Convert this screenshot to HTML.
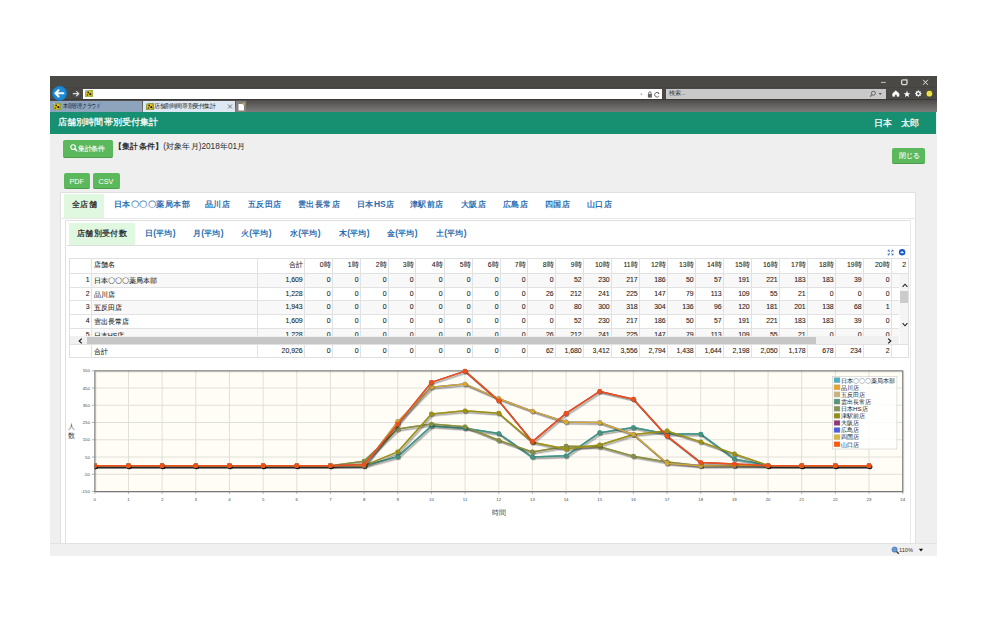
<!DOCTYPE html>
<html><head><meta charset="utf-8">
<style>
*{box-sizing:border-box;margin:0;padding:0}
html,body{width:988px;height:632px;overflow:hidden;background:#fff;font-family:"Liberation Sans",sans-serif;}
.a{position:absolute}
#win{left:50px;top:76px;width:887px;height:480px;background:#efefef;overflow:hidden}
#title{left:0;top:0;width:887px;height:24px;background:#4a4946}
#tabrow{left:0;top:24px;width:887px;height:12px;background:linear-gradient(#4d4c4a,#7e7c7a)}
#addr{left:33px;top:12.5px;width:579px;height:10.5px;background:#fff}
#search{left:616px;top:12.6px;width:220px;height:10px;background:#c9c9c9}
#hdr{left:0;top:36px;width:886px;height:22px;background:#179072;color:#fff;font-size:9.3px}
#status{left:0;top:467px;width:887px;height:13px;background:#f0f0f0;border-top:1px solid #e2e2e2}
.btn{background:#5cb85c;color:#fff;border-radius:2px;font-size:6px;text-align:center}
.tab0{left:0;top:24.5px;width:92px;height:11.5px;background:#8ea4bd;font-size:5.7px;color:#0e1a30;line-height:11.5px}
.tab1{left:93px;top:24.5px;width:92px;height:11.5px;background:#dde8f3;font-size:5.6px;color:#101820;line-height:11.5px}
</style></head><body>
<div id="win" class="a">
  <div id="title" class="a"></div>
  <div class="a" style="left:0;top:11px;width:887px;height:1px;background:#444341"></div>
  <div id="tabrow" class="a"></div>
  <div class="a" style="left:0;top:22.8px;width:887px;height:1.4px;background:#3a3938"></div>
  <!-- window controls -->
  <svg class="a" style="left:826px;top:2px" width="60" height="10" viewBox="0 0 60 10">
    <line x1="4.9" y1="4.4" x2="9.8" y2="4.4" stroke="#d0d0d0" stroke-width="0.9"/>
    <rect x="25.6" y="1.9" width="5.4" height="4.8" rx="1.4" fill="none" stroke="#dcdcdc" stroke-width="1.3"/>
    <path d="M29.2 1.3H31.4V3.6" fill="none" stroke="#bbb" stroke-width="0.7"/>
    <path d="M47.1 1.8L51.9 6.8M51.9 1.8L47.1 6.8" stroke="#e6e6e6" stroke-width="1"/>
  </svg>
  <!-- back / forward -->
  <svg class="a" style="left:0;top:9px" width="34" height="16" viewBox="0 0 34 16">
    <circle cx="9.6" cy="8.3" r="7.2" fill="#1b89d5" stroke="#1170b4" stroke-width="0.6"/>
    <path d="M5.4 8.3H13.4M5.4 8.3L8.6 5.1M5.4 8.3L8.6 11.5" stroke="#fff" stroke-width="2" fill="none" stroke-linecap="round" stroke-linejoin="round"/>
    <circle cx="26.1" cy="8.7" r="5" fill="#4d4c4a" stroke="#3a3938" stroke-width="0.6"/>
    <path d="M23.3 8.7H28.8M28.8 8.7L26.6 6.6M28.8 8.7L26.6 10.8" stroke="#d8d8d8" stroke-width="1.2" fill="none" stroke-linecap="round"/>
  </svg>
  <div id="addr" class="a">
    <svg class="a" style="left:2px;top:1.5px" width="8" height="7" viewBox="0 0 8 7">
      <rect x="0" y="0" width="8" height="7" fill="#9ab650"/>
      <circle cx="4" cy="3.6" r="2.8" fill="#f0c020"/>
      <circle cx="3.2" cy="2.4" r="0.9" fill="#221"/><circle cx="5.3" cy="4.2" r="1.1" fill="#221"/><circle cx="2.6" cy="4.9" r="0.7" fill="#221"/>
      <rect x="0" y="0" width="2" height="1.3" fill="#9cd0f0"/>
    </svg>
    <svg class="a" style="left:555px;top:1px" width="24" height="9" viewBox="0 0 24 9">
      <path d="M2.4 3.8L4.4 3.8L3.4 5z" fill="#666"/>
      <g transform="translate(1.3,0)"><rect x="8.6" y="4" width="4" height="3.6" fill="#666"/><path d="M9.4 4.2V2.9A1.2 1.2 0 0 1 11.8 2.9V4.2" stroke="#666" fill="none" stroke-width="0.9"/>
      <path d="M19.5 3.3A2.3 2.3 0 1 0 19.6 6" stroke="#666" fill="none" stroke-width="1"/><path d="M18.6 2.1L20.2 3.4L18.6 4.2" fill="#666"/></g>
    </svg>
  </div>
  <div id="search" class="a">
    <span class="a" style="left:3px;top:1.8px;font-size:5.5px;color:#333">検索...</span>
    <svg class="a" style="left:201px;top:1px" width="22" height="8" viewBox="0 0 22 8">
      <circle cx="6.4" cy="3.2" r="2" stroke="#666" fill="none" stroke-width="1"/><path d="M5 4.7L3.2 6.6" stroke="#666" stroke-width="1.2"/>
      <path d="M11.6 3.1L14.8 3.1L13.2 5z" fill="#555"/>
    </svg>
  </div>
  <!-- toolbar icons -->
  <svg class="a" style="left:840px;top:12px" width="47" height="12" viewBox="0 0 47 12">
    <path d="M2.7 8.3V5.6L5.85 2.8L9 5.6V8.3H7V6.4H4.7V8.3z" fill="#fff" stroke="#fff" stroke-width="0.6" stroke-linejoin="round"/>
    <path d="M17 2.6L17.9 5.2L20.4 5.2L18.4 6.8L19.1 9.1L17 7.7L14.9 9.1L15.6 6.8L13.6 5.2L16.1 5.2z" fill="#fff"/>
    <polygon points="31.80,5.60 30.52,6.52 30.77,8.07 29.22,7.82 28.30,9.10 27.38,7.82 25.83,8.07 26.08,6.52 24.80,5.60 26.08,4.68 25.83,3.13 27.38,3.38 28.30,2.10 29.22,3.38 30.77,3.13 30.52,4.68" fill="#fff"/>
    <circle cx="28.3" cy="5.6" r="1.2" fill="#3a3938"/>
    <circle cx="39.4" cy="5.65" r="3.4" fill="#f3e64b" stroke="#2a2a18" stroke-width="0.7"/>
    <circle cx="38.4" cy="5" r="0.4" fill="#a09020"/><circle cx="40.6" cy="5" r="0.4" fill="#a09020"/>
  </svg>
  <!-- tabs -->
  <div class="a tab0">
    <svg class="a" style="left:2.5px;top:2px" width="8" height="7" viewBox="0 0 8 7">
      <rect x="0" y="0" width="8" height="7" fill="#8aa048"/>
      <circle cx="4" cy="3.6" r="2.9" fill="#f0c020"/>
      <circle cx="3.2" cy="2.4" r="0.9" fill="#221"/><circle cx="5.3" cy="4.2" r="1.1" fill="#221"/><circle cx="2.6" cy="4.9" r="0.7" fill="#221"/>
      <rect x="0" y="0" width="2" height="1.3" fill="#9cd0f0"/>
    </svg>
    <span class="a" style="left:12.7px;top:2.6px;font-size:20px;line-height:20px;white-space:nowrap;transform:scale(0.235,0.28);transform-origin:0 0">本部管理クラウド</span>
  </div>
  <div class="a tab1">
    <svg class="a" style="left:3px;top:2px" width="8" height="7" viewBox="0 0 8 7">
      <rect x="0" y="0" width="8" height="7" fill="#8aa048"/>
      <circle cx="4" cy="3.6" r="2.9" fill="#f0c020"/>
      <circle cx="3.2" cy="2.4" r="0.9" fill="#221"/><circle cx="5.3" cy="4.2" r="1.1" fill="#221"/><circle cx="2.6" cy="4.9" r="0.7" fill="#221"/>
      <rect x="0" y="0" width="2" height="1.3" fill="#9cd0f0"/>
    </svg>
    <span class="a" style="left:10.6px;top:2.6px;font-size:20px;line-height:20px;white-space:nowrap;transform:scale(0.28);transform-origin:0 0">店舗別時間帯別受付集計</span>
    <svg class="a" style="left:84px;top:3.5px" width="6" height="5" viewBox="0 0 6 5"><path d="M1 0.5L5 4.5M5 0.5L1 4.5" stroke="#555" stroke-width="0.8"/></svg>
  </div>
  <div class="a" style="left:186px;top:24.5px;width:9.5px;height:11.5px;background:#85837f">
    <svg class="a" style="left:1.5px;top:2px" width="7" height="8" viewBox="0 0 7 8"><path d="M0.5 1H4.5L6 2.5V7.5H0.5z" fill="#fff"/><path d="M4.2 0.3L6.6 0.3L6.6 2.6" fill="#f2b830"/></svg>
  </div>
  <div id="hdr" class="a">
    <span class="a" style="left:8.2px;top:3.6px;font-size:20px;line-height:normal;white-space:nowrap;transform:scale(0.455);transform-origin:0 0;-webkit-text-stroke:0.5px #fff">店舗別時間帯別受付集計</span>
    <span class="a" style="left:823.6px;top:5.3px;font-size:20px;line-height:normal;white-space:nowrap;transform:scale(0.445);transform-origin:0 0;-webkit-text-stroke:0.5px #fff">日本</span><span class="a" style="left:850.8px;top:5.3px;font-size:20px;line-height:normal;white-space:nowrap;transform:scale(0.445);transform-origin:0 0;-webkit-text-stroke:0.5px #fff">太郎</span>
  </div>
<div id="page" class="a" style="left:0;top:58px;width:886px;height:409px;overflow:hidden;background:#efefef">
<div class="a" style="left:13.00px;top:6.00px;width:50.40px;height:17.60px;background:#5cb85c;border-radius:2px;border-bottom:1px solid #4a9e4a;"><svg class="a" style="left:6.6px;top:3.6px" width="8" height="8" viewBox="0 0 8 8"><circle cx="3.1" cy="3.1" r="2.35" fill="none" stroke="#fff" stroke-width="1.15"/><path d="M4.8 4.8L6.8 6.8" stroke="#fff" stroke-width="1.4" stroke-linecap="round"/></svg><span class="a" style="left:14.6px;top:3.9px;font-size:20px;transform:scale(0.3300);transform-origin:0 0;white-space:nowrap;color:#fff;-webkit-text-stroke:0.3px #fff">集計条件</span></div>
<span class="a" style="left:64.40px;top:6.80px;font-size:20px;transform:scale(0.4100);transform-origin:0 0;white-space:nowrap;color:#2a2a2a"><b>【集計条件】</b>(対象年月)2018年01月</span>
<div class="a" style="left:842.10px;top:13.50px;width:33.40px;height:16.10px;background:#5cb85c;border-radius:2px;border-bottom:1px solid #4a9e4a;"><span class="a" style="left:6.6px;top:3.6px;font-size:20px;transform:scale(0.3350);transform-origin:0 0;white-space:nowrap;color:#fff;letter-spacing:0.6px;-webkit-text-stroke:0.3px #fff">閉じる</span></div>
<div class="a" style="left:14.10px;top:39.40px;width:25.70px;height:15.70px;background:#5cb85c;border-radius:2px;border-bottom:1px solid #4a9e4a;"><span class="a" style="left:5.3px;top:3.7px;font-size:7.3px;color:#fff">PDF</span></div>
<div class="a" style="left:42.80px;top:39.40px;width:27.00px;height:15.70px;background:#5cb85c;border-radius:2px;border-bottom:1px solid #4a9e4a;"><span class="a" style="left:5.6px;top:3.7px;font-size:7.3px;color:#fff">CSV</span></div>
<div class="a" style="left:10.40px;top:58.10px;width:855.60px;height:367.90px;background:#fff;border:1px solid #e0e0e0;"></div>
<div class="a" style="left:13.60px;top:59.90px;width:40.60px;height:24.10px;background:#dff8df;"></div>
<div class="a" style="left:11.20px;top:83.60px;width:854.00px;height:1.00px;background:#e8e8e8;"></div>
<span class="a" style="left:21.60px;top:65.20px;font-size:20px;transform:scale(0.4150);transform-origin:0 0;white-space:nowrap;color:#333"><b>全店舗</b></span>
<span class="a" style="left:64.10px;top:65.20px;font-size:20px;transform:scale(0.4225);transform-origin:0 0;white-space:nowrap;color:#2a6db0"><b>日本〇〇〇薬局本部</b></span>
<span class="a" style="left:155.40px;top:65.20px;font-size:20px;transform:scale(0.4225);transform-origin:0 0;white-space:nowrap;color:#2a6db0"><b>品川店</b></span>
<span class="a" style="left:198.30px;top:65.20px;font-size:20px;transform:scale(0.4225);transform-origin:0 0;white-space:nowrap;color:#2a6db0"><b>五反田店</b></span>
<span class="a" style="left:248.30px;top:65.20px;font-size:20px;transform:scale(0.4225);transform-origin:0 0;white-space:nowrap;color:#2a6db0"><b>雲出長常店</b></span>
<span class="a" style="left:306.90px;top:65.20px;font-size:20px;transform:scale(0.4225);transform-origin:0 0;white-space:nowrap;color:#2a6db0"><b>日本HS店</b></span>
<span class="a" style="left:360.40px;top:65.20px;font-size:20px;transform:scale(0.4225);transform-origin:0 0;white-space:nowrap;color:#2a6db0"><b>津駅前店</b></span>
<span class="a" style="left:410.50px;top:65.20px;font-size:20px;transform:scale(0.4225);transform-origin:0 0;white-space:nowrap;color:#2a6db0"><b>大阪店</b></span>
<span class="a" style="left:452.60px;top:65.20px;font-size:20px;transform:scale(0.4225);transform-origin:0 0;white-space:nowrap;color:#2a6db0"><b>広島店</b></span>
<span class="a" style="left:494.90px;top:65.20px;font-size:20px;transform:scale(0.4225);transform-origin:0 0;white-space:nowrap;color:#2a6db0"><b>四国店</b></span>
<span class="a" style="left:537.10px;top:65.20px;font-size:20px;transform:scale(0.4225);transform-origin:0 0;white-space:nowrap;color:#2a6db0"><b>山口店</b></span>
<div class="a" style="left:15.40px;top:86.00px;width:845.40px;height:340.00px;background:#fff;border:1px solid #e0e0e0;border-right-color:#ebebeb;"></div>
<div class="a" style="left:19.30px;top:89.20px;width:65.30px;height:22.30px;background:#dff8df;"></div>
<div class="a" style="left:16.50px;top:111.20px;width:842.80px;height:1.00px;background:#dddddd;"></div>
<span class="a" style="left:27.00px;top:93.80px;font-size:20px;transform:scale(0.4175);transform-origin:0 0;white-space:nowrap;color:#333"><b>店舗別受付数</b></span>
<span class="a" style="left:94.60px;top:93.80px;font-size:20px;transform:scale(0.4175);transform-origin:0 0;white-space:nowrap;color:#2a6db0"><b>日(平均)</b></span>
<span class="a" style="left:142.70px;top:93.80px;font-size:20px;transform:scale(0.4175);transform-origin:0 0;white-space:nowrap;color:#2a6db0"><b>月(平均)</b></span>
<span class="a" style="left:191.30px;top:93.80px;font-size:20px;transform:scale(0.4175);transform-origin:0 0;white-space:nowrap;color:#2a6db0"><b>火(平均)</b></span>
<span class="a" style="left:239.80px;top:93.80px;font-size:20px;transform:scale(0.4175);transform-origin:0 0;white-space:nowrap;color:#2a6db0"><b>水(平均)</b></span>
<span class="a" style="left:288.70px;top:93.80px;font-size:20px;transform:scale(0.4175);transform-origin:0 0;white-space:nowrap;color:#2a6db0"><b>木(平均)</b></span>
<span class="a" style="left:337.20px;top:93.80px;font-size:20px;transform:scale(0.4175);transform-origin:0 0;white-space:nowrap;color:#2a6db0"><b>金(平均)</b></span>
<span class="a" style="left:386.10px;top:93.80px;font-size:20px;transform:scale(0.4175);transform-origin:0 0;white-space:nowrap;color:#2a6db0"><b>土(平均)</b></span>
<svg class="a" style="left:836px;top:114px" width="20" height="9" viewBox="0 0 20 9"><path d="M2.2 2.2L3.8 3.8M2.2 2.2H3.5M2.2 2.2V3.5 M7.0 2.2L5.4 3.8M7.0 2.2H5.7M7.0 2.2V3.5 M2.2 6.9L3.8 5.3M2.2 6.9H3.5M2.2 6.9V5.6 M7.0 6.9L5.4 5.3M7.0 6.9H5.7M7.0 6.9V5.6" stroke="#3a6fb8" stroke-width="1" fill="none"/><circle cx="16.1" cy="4.2" r="3.2" fill="#1a56c8"/><path d="M14.4 5.0L16.1 3.1L17.8 5.0z" fill="#bfefff" stroke="#bfefff" stroke-width="0.5" stroke-linejoin="round"/></svg>
<div class="a" style="left:19.10px;top:124.40px;width:840.30px;height:99.80px;border:1px solid #e0e0e0;background:#fff;"></div>
<div class="a" style="left:19.60px;top:139.00px;width:839.80px;height:1.00px;background:#e2e2e2;"></div>
<div class="a" style="left:41.50px;top:140.00px;width:808.00px;height:13.72px;background:#f8f8f8;"></div>
<div class="a" style="left:19.60px;top:152.72px;width:829.90px;height:1.00px;background:#e2e2e2;"></div>
<div class="a" style="left:41.50px;top:153.72px;width:808.00px;height:13.72px;background:#fff;"></div>
<div class="a" style="left:19.60px;top:166.44px;width:829.90px;height:1.00px;background:#e2e2e2;"></div>
<div class="a" style="left:41.50px;top:167.44px;width:808.00px;height:13.72px;background:#f8f8f8;"></div>
<div class="a" style="left:19.60px;top:180.16px;width:829.90px;height:1.00px;background:#e2e2e2;"></div>
<div class="a" style="left:41.50px;top:181.16px;width:808.00px;height:13.72px;background:#fff;"></div>
<div class="a" style="left:19.60px;top:193.88px;width:829.90px;height:1.00px;background:#e2e2e2;"></div>
<div class="a" style="left:41.50px;top:194.88px;width:808.00px;height:7.42px;background:#f8f8f8;"></div>
<div class="a" style="left:41.00px;top:124.90px;width:1.00px;height:77.40px;background:#e2e2e2;"></div>
<div class="a" style="left:41.00px;top:210.20px;width:1.00px;height:13.40px;background:#e2e2e2;"></div>
<div class="a" style="left:207.00px;top:124.90px;width:1.00px;height:77.40px;background:#e2e2e2;"></div>
<div class="a" style="left:207.00px;top:210.20px;width:1.00px;height:13.40px;background:#e2e2e2;"></div>
<div class="a" style="left:254.00px;top:124.90px;width:1.00px;height:77.40px;background:#e2e2e2;"></div>
<div class="a" style="left:254.00px;top:210.20px;width:1.00px;height:13.40px;background:#e2e2e2;"></div>
<div class="a" style="left:282.00px;top:124.90px;width:1.00px;height:77.40px;background:#e2e2e2;"></div>
<div class="a" style="left:282.00px;top:210.20px;width:1.00px;height:13.40px;background:#e2e2e2;"></div>
<div class="a" style="left:310.00px;top:124.90px;width:1.00px;height:77.40px;background:#e2e2e2;"></div>
<div class="a" style="left:310.00px;top:210.20px;width:1.00px;height:13.40px;background:#e2e2e2;"></div>
<div class="a" style="left:338.00px;top:124.90px;width:1.00px;height:77.40px;background:#e2e2e2;"></div>
<div class="a" style="left:338.00px;top:210.20px;width:1.00px;height:13.40px;background:#e2e2e2;"></div>
<div class="a" style="left:365.00px;top:124.90px;width:1.00px;height:77.40px;background:#e2e2e2;"></div>
<div class="a" style="left:365.00px;top:210.20px;width:1.00px;height:13.40px;background:#e2e2e2;"></div>
<div class="a" style="left:394.00px;top:124.90px;width:1.00px;height:77.40px;background:#e2e2e2;"></div>
<div class="a" style="left:394.00px;top:210.20px;width:1.00px;height:13.40px;background:#e2e2e2;"></div>
<div class="a" style="left:422.00px;top:124.90px;width:1.00px;height:77.40px;background:#e2e2e2;"></div>
<div class="a" style="left:422.00px;top:210.20px;width:1.00px;height:13.40px;background:#e2e2e2;"></div>
<div class="a" style="left:450.00px;top:124.90px;width:1.00px;height:77.40px;background:#e2e2e2;"></div>
<div class="a" style="left:450.00px;top:210.20px;width:1.00px;height:13.40px;background:#e2e2e2;"></div>
<div class="a" style="left:477.00px;top:124.90px;width:1.00px;height:77.40px;background:#e2e2e2;"></div>
<div class="a" style="left:477.00px;top:210.20px;width:1.00px;height:13.40px;background:#e2e2e2;"></div>
<div class="a" style="left:505.00px;top:124.90px;width:1.00px;height:77.40px;background:#e2e2e2;"></div>
<div class="a" style="left:505.00px;top:210.20px;width:1.00px;height:13.40px;background:#e2e2e2;"></div>
<div class="a" style="left:533.00px;top:124.90px;width:1.00px;height:77.40px;background:#e2e2e2;"></div>
<div class="a" style="left:533.00px;top:210.20px;width:1.00px;height:13.40px;background:#e2e2e2;"></div>
<div class="a" style="left:561.00px;top:124.90px;width:1.00px;height:77.40px;background:#e2e2e2;"></div>
<div class="a" style="left:561.00px;top:210.20px;width:1.00px;height:13.40px;background:#e2e2e2;"></div>
<div class="a" style="left:589.00px;top:124.90px;width:1.00px;height:77.40px;background:#e2e2e2;"></div>
<div class="a" style="left:589.00px;top:210.20px;width:1.00px;height:13.40px;background:#e2e2e2;"></div>
<div class="a" style="left:617.00px;top:124.90px;width:1.00px;height:77.40px;background:#e2e2e2;"></div>
<div class="a" style="left:617.00px;top:210.20px;width:1.00px;height:13.40px;background:#e2e2e2;"></div>
<div class="a" style="left:645.00px;top:124.90px;width:1.00px;height:77.40px;background:#e2e2e2;"></div>
<div class="a" style="left:645.00px;top:210.20px;width:1.00px;height:13.40px;background:#e2e2e2;"></div>
<div class="a" style="left:673.00px;top:124.90px;width:1.00px;height:77.40px;background:#e2e2e2;"></div>
<div class="a" style="left:673.00px;top:210.20px;width:1.00px;height:13.40px;background:#e2e2e2;"></div>
<div class="a" style="left:701.00px;top:124.90px;width:1.00px;height:77.40px;background:#e2e2e2;"></div>
<div class="a" style="left:701.00px;top:210.20px;width:1.00px;height:13.40px;background:#e2e2e2;"></div>
<div class="a" style="left:729.00px;top:124.90px;width:1.00px;height:77.40px;background:#e2e2e2;"></div>
<div class="a" style="left:729.00px;top:210.20px;width:1.00px;height:13.40px;background:#e2e2e2;"></div>
<div class="a" style="left:757.00px;top:124.90px;width:1.00px;height:77.40px;background:#e2e2e2;"></div>
<div class="a" style="left:757.00px;top:210.20px;width:1.00px;height:13.40px;background:#e2e2e2;"></div>
<div class="a" style="left:785.00px;top:124.90px;width:1.00px;height:77.40px;background:#e2e2e2;"></div>
<div class="a" style="left:785.00px;top:210.20px;width:1.00px;height:13.40px;background:#e2e2e2;"></div>
<div class="a" style="left:813.00px;top:124.90px;width:1.00px;height:77.40px;background:#e2e2e2;"></div>
<div class="a" style="left:813.00px;top:210.20px;width:1.00px;height:13.40px;background:#e2e2e2;"></div>
<div class="a" style="left:841.00px;top:124.90px;width:1.00px;height:77.40px;background:#e2e2e2;"></div>
<div class="a" style="left:841.00px;top:210.20px;width:1.00px;height:13.40px;background:#e2e2e2;"></div>
<span class="a" style="left:43.80px;top:126.00px;font-size:6.9px;color:#222;white-space:nowrap;-webkit-text-stroke:0.08px #222;">店舗名</span>
<span class="a" style="left:192.70px;top:126.00px;width:60px;text-align:right;font-size:6.9px;color:#222;white-space:nowrap;-webkit-text-stroke:0.08px #222;">合計</span>
<span class="a" style="left:220.70px;top:126.00px;width:60px;text-align:right;font-size:6.9px;color:#222;white-space:nowrap;-webkit-text-stroke:0.08px #222;">0時</span>
<span class="a" style="left:248.70px;top:126.00px;width:60px;text-align:right;font-size:6.9px;color:#222;white-space:nowrap;-webkit-text-stroke:0.08px #222;">1時</span>
<span class="a" style="left:276.70px;top:126.00px;width:60px;text-align:right;font-size:6.9px;color:#222;white-space:nowrap;-webkit-text-stroke:0.08px #222;">2時</span>
<span class="a" style="left:303.70px;top:126.00px;width:60px;text-align:right;font-size:6.9px;color:#222;white-space:nowrap;-webkit-text-stroke:0.08px #222;">3時</span>
<span class="a" style="left:332.70px;top:126.00px;width:60px;text-align:right;font-size:6.9px;color:#222;white-space:nowrap;-webkit-text-stroke:0.08px #222;">4時</span>
<span class="a" style="left:360.70px;top:126.00px;width:60px;text-align:right;font-size:6.9px;color:#222;white-space:nowrap;-webkit-text-stroke:0.08px #222;">5時</span>
<span class="a" style="left:388.70px;top:126.00px;width:60px;text-align:right;font-size:6.9px;color:#222;white-space:nowrap;-webkit-text-stroke:0.08px #222;">6時</span>
<span class="a" style="left:415.70px;top:126.00px;width:60px;text-align:right;font-size:6.9px;color:#222;white-space:nowrap;-webkit-text-stroke:0.08px #222;">7時</span>
<span class="a" style="left:443.70px;top:126.00px;width:60px;text-align:right;font-size:6.9px;color:#222;white-space:nowrap;-webkit-text-stroke:0.08px #222;">8時</span>
<span class="a" style="left:471.70px;top:126.00px;width:60px;text-align:right;font-size:6.9px;color:#222;white-space:nowrap;-webkit-text-stroke:0.08px #222;">9時</span>
<span class="a" style="left:499.70px;top:126.00px;width:60px;text-align:right;font-size:6.9px;color:#222;white-space:nowrap;-webkit-text-stroke:0.08px #222;">10時</span>
<span class="a" style="left:527.70px;top:126.00px;width:60px;text-align:right;font-size:6.9px;color:#222;white-space:nowrap;-webkit-text-stroke:0.08px #222;">11時</span>
<span class="a" style="left:555.70px;top:126.00px;width:60px;text-align:right;font-size:6.9px;color:#222;white-space:nowrap;-webkit-text-stroke:0.08px #222;">12時</span>
<span class="a" style="left:583.70px;top:126.00px;width:60px;text-align:right;font-size:6.9px;color:#222;white-space:nowrap;-webkit-text-stroke:0.08px #222;">13時</span>
<span class="a" style="left:611.70px;top:126.00px;width:60px;text-align:right;font-size:6.9px;color:#222;white-space:nowrap;-webkit-text-stroke:0.08px #222;">14時</span>
<span class="a" style="left:639.70px;top:126.00px;width:60px;text-align:right;font-size:6.9px;color:#222;white-space:nowrap;-webkit-text-stroke:0.08px #222;">15時</span>
<span class="a" style="left:667.70px;top:126.00px;width:60px;text-align:right;font-size:6.9px;color:#222;white-space:nowrap;-webkit-text-stroke:0.08px #222;">16時</span>
<span class="a" style="left:695.70px;top:126.00px;width:60px;text-align:right;font-size:6.9px;color:#222;white-space:nowrap;-webkit-text-stroke:0.08px #222;">17時</span>
<span class="a" style="left:723.70px;top:126.00px;width:60px;text-align:right;font-size:6.9px;color:#222;white-space:nowrap;-webkit-text-stroke:0.08px #222;">18時</span>
<span class="a" style="left:751.70px;top:126.00px;width:60px;text-align:right;font-size:6.9px;color:#222;white-space:nowrap;-webkit-text-stroke:0.08px #222;">19時</span>
<span class="a" style="left:779.70px;top:126.00px;width:60px;text-align:right;font-size:6.9px;color:#222;white-space:nowrap;-webkit-text-stroke:0.08px #222;">20時</span>
<span class="a" style="left:852.30px;top:126.80px;font-size:6.9px;color:#222;white-space:nowrap;-webkit-text-stroke:0.08px #222;">2</span>
<span class="a" style="left:-20.30px;top:142.00px;width:60px;text-align:right;font-size:6.9px;color:#222;white-space:nowrap;-webkit-text-stroke:0.08px #222;">1</span>
<span class="a" style="left:43.80px;top:141.80px;font-size:6.9px;color:#222;white-space:nowrap;-webkit-text-stroke:0.08px #222;">日本〇〇〇薬局本部</span>
<span class="a" style="left:192.70px;top:142.00px;width:60px;text-align:right;font-size:6.9px;color:#222;white-space:nowrap;-webkit-text-stroke:0.08px #222;">1,609</span>
<span class="a" style="left:220.70px;top:142.00px;width:60px;text-align:right;font-size:6.9px;color:#222;white-space:nowrap;-webkit-text-stroke:0.08px #222;">0</span>
<span class="a" style="left:248.70px;top:142.00px;width:60px;text-align:right;font-size:6.9px;color:#222;white-space:nowrap;-webkit-text-stroke:0.08px #222;">0</span>
<span class="a" style="left:276.70px;top:142.00px;width:60px;text-align:right;font-size:6.9px;color:#222;white-space:nowrap;-webkit-text-stroke:0.08px #222;">0</span>
<span class="a" style="left:303.70px;top:142.00px;width:60px;text-align:right;font-size:6.9px;color:#222;white-space:nowrap;-webkit-text-stroke:0.08px #222;">0</span>
<span class="a" style="left:332.70px;top:142.00px;width:60px;text-align:right;font-size:6.9px;color:#222;white-space:nowrap;-webkit-text-stroke:0.08px #222;">0</span>
<span class="a" style="left:360.70px;top:142.00px;width:60px;text-align:right;font-size:6.9px;color:#222;white-space:nowrap;-webkit-text-stroke:0.08px #222;">0</span>
<span class="a" style="left:388.70px;top:142.00px;width:60px;text-align:right;font-size:6.9px;color:#222;white-space:nowrap;-webkit-text-stroke:0.08px #222;">0</span>
<span class="a" style="left:415.70px;top:142.00px;width:60px;text-align:right;font-size:6.9px;color:#222;white-space:nowrap;-webkit-text-stroke:0.08px #222;">0</span>
<span class="a" style="left:443.70px;top:142.00px;width:60px;text-align:right;font-size:6.9px;color:#222;white-space:nowrap;-webkit-text-stroke:0.08px #222;">0</span>
<span class="a" style="left:471.70px;top:142.00px;width:60px;text-align:right;font-size:6.9px;color:#222;white-space:nowrap;-webkit-text-stroke:0.08px #222;">52</span>
<span class="a" style="left:499.70px;top:142.00px;width:60px;text-align:right;font-size:6.9px;color:#222;white-space:nowrap;-webkit-text-stroke:0.08px #222;">230</span>
<span class="a" style="left:527.70px;top:142.00px;width:60px;text-align:right;font-size:6.9px;color:#222;white-space:nowrap;-webkit-text-stroke:0.08px #222;">217</span>
<span class="a" style="left:555.70px;top:142.00px;width:60px;text-align:right;font-size:6.9px;color:#222;white-space:nowrap;-webkit-text-stroke:0.08px #222;">186</span>
<span class="a" style="left:583.70px;top:142.00px;width:60px;text-align:right;font-size:6.9px;color:#222;white-space:nowrap;-webkit-text-stroke:0.08px #222;">50</span>
<span class="a" style="left:611.70px;top:142.00px;width:60px;text-align:right;font-size:6.9px;color:#222;white-space:nowrap;-webkit-text-stroke:0.08px #222;">57</span>
<span class="a" style="left:639.70px;top:142.00px;width:60px;text-align:right;font-size:6.9px;color:#222;white-space:nowrap;-webkit-text-stroke:0.08px #222;">191</span>
<span class="a" style="left:667.70px;top:142.00px;width:60px;text-align:right;font-size:6.9px;color:#222;white-space:nowrap;-webkit-text-stroke:0.08px #222;">221</span>
<span class="a" style="left:695.70px;top:142.00px;width:60px;text-align:right;font-size:6.9px;color:#222;white-space:nowrap;-webkit-text-stroke:0.08px #222;">183</span>
<span class="a" style="left:723.70px;top:142.00px;width:60px;text-align:right;font-size:6.9px;color:#222;white-space:nowrap;-webkit-text-stroke:0.08px #222;">183</span>
<span class="a" style="left:751.70px;top:142.00px;width:60px;text-align:right;font-size:6.9px;color:#222;white-space:nowrap;-webkit-text-stroke:0.08px #222;">39</span>
<span class="a" style="left:779.70px;top:142.00px;width:60px;text-align:right;font-size:6.9px;color:#222;white-space:nowrap;-webkit-text-stroke:0.08px #222;">0</span>
<span class="a" style="left:-20.30px;top:155.72px;width:60px;text-align:right;font-size:6.9px;color:#222;white-space:nowrap;-webkit-text-stroke:0.08px #222;">2</span>
<span class="a" style="left:43.80px;top:155.52px;font-size:6.9px;color:#222;white-space:nowrap;-webkit-text-stroke:0.08px #222;">品川店</span>
<span class="a" style="left:192.70px;top:155.72px;width:60px;text-align:right;font-size:6.9px;color:#222;white-space:nowrap;-webkit-text-stroke:0.08px #222;">1,228</span>
<span class="a" style="left:220.70px;top:155.72px;width:60px;text-align:right;font-size:6.9px;color:#222;white-space:nowrap;-webkit-text-stroke:0.08px #222;">0</span>
<span class="a" style="left:248.70px;top:155.72px;width:60px;text-align:right;font-size:6.9px;color:#222;white-space:nowrap;-webkit-text-stroke:0.08px #222;">0</span>
<span class="a" style="left:276.70px;top:155.72px;width:60px;text-align:right;font-size:6.9px;color:#222;white-space:nowrap;-webkit-text-stroke:0.08px #222;">0</span>
<span class="a" style="left:303.70px;top:155.72px;width:60px;text-align:right;font-size:6.9px;color:#222;white-space:nowrap;-webkit-text-stroke:0.08px #222;">0</span>
<span class="a" style="left:332.70px;top:155.72px;width:60px;text-align:right;font-size:6.9px;color:#222;white-space:nowrap;-webkit-text-stroke:0.08px #222;">0</span>
<span class="a" style="left:360.70px;top:155.72px;width:60px;text-align:right;font-size:6.9px;color:#222;white-space:nowrap;-webkit-text-stroke:0.08px #222;">0</span>
<span class="a" style="left:388.70px;top:155.72px;width:60px;text-align:right;font-size:6.9px;color:#222;white-space:nowrap;-webkit-text-stroke:0.08px #222;">0</span>
<span class="a" style="left:415.70px;top:155.72px;width:60px;text-align:right;font-size:6.9px;color:#222;white-space:nowrap;-webkit-text-stroke:0.08px #222;">0</span>
<span class="a" style="left:443.70px;top:155.72px;width:60px;text-align:right;font-size:6.9px;color:#222;white-space:nowrap;-webkit-text-stroke:0.08px #222;">26</span>
<span class="a" style="left:471.70px;top:155.72px;width:60px;text-align:right;font-size:6.9px;color:#222;white-space:nowrap;-webkit-text-stroke:0.08px #222;">212</span>
<span class="a" style="left:499.70px;top:155.72px;width:60px;text-align:right;font-size:6.9px;color:#222;white-space:nowrap;-webkit-text-stroke:0.08px #222;">241</span>
<span class="a" style="left:527.70px;top:155.72px;width:60px;text-align:right;font-size:6.9px;color:#222;white-space:nowrap;-webkit-text-stroke:0.08px #222;">225</span>
<span class="a" style="left:555.70px;top:155.72px;width:60px;text-align:right;font-size:6.9px;color:#222;white-space:nowrap;-webkit-text-stroke:0.08px #222;">147</span>
<span class="a" style="left:583.70px;top:155.72px;width:60px;text-align:right;font-size:6.9px;color:#222;white-space:nowrap;-webkit-text-stroke:0.08px #222;">79</span>
<span class="a" style="left:611.70px;top:155.72px;width:60px;text-align:right;font-size:6.9px;color:#222;white-space:nowrap;-webkit-text-stroke:0.08px #222;">113</span>
<span class="a" style="left:639.70px;top:155.72px;width:60px;text-align:right;font-size:6.9px;color:#222;white-space:nowrap;-webkit-text-stroke:0.08px #222;">109</span>
<span class="a" style="left:667.70px;top:155.72px;width:60px;text-align:right;font-size:6.9px;color:#222;white-space:nowrap;-webkit-text-stroke:0.08px #222;">55</span>
<span class="a" style="left:695.70px;top:155.72px;width:60px;text-align:right;font-size:6.9px;color:#222;white-space:nowrap;-webkit-text-stroke:0.08px #222;">21</span>
<span class="a" style="left:723.70px;top:155.72px;width:60px;text-align:right;font-size:6.9px;color:#222;white-space:nowrap;-webkit-text-stroke:0.08px #222;">0</span>
<span class="a" style="left:751.70px;top:155.72px;width:60px;text-align:right;font-size:6.9px;color:#222;white-space:nowrap;-webkit-text-stroke:0.08px #222;">0</span>
<span class="a" style="left:779.70px;top:155.72px;width:60px;text-align:right;font-size:6.9px;color:#222;white-space:nowrap;-webkit-text-stroke:0.08px #222;">0</span>
<span class="a" style="left:-20.30px;top:169.44px;width:60px;text-align:right;font-size:6.9px;color:#222;white-space:nowrap;-webkit-text-stroke:0.08px #222;">3</span>
<span class="a" style="left:43.80px;top:169.24px;font-size:6.9px;color:#222;white-space:nowrap;-webkit-text-stroke:0.08px #222;">五反田店</span>
<span class="a" style="left:192.70px;top:169.44px;width:60px;text-align:right;font-size:6.9px;color:#222;white-space:nowrap;-webkit-text-stroke:0.08px #222;">1,943</span>
<span class="a" style="left:220.70px;top:169.44px;width:60px;text-align:right;font-size:6.9px;color:#222;white-space:nowrap;-webkit-text-stroke:0.08px #222;">0</span>
<span class="a" style="left:248.70px;top:169.44px;width:60px;text-align:right;font-size:6.9px;color:#222;white-space:nowrap;-webkit-text-stroke:0.08px #222;">0</span>
<span class="a" style="left:276.70px;top:169.44px;width:60px;text-align:right;font-size:6.9px;color:#222;white-space:nowrap;-webkit-text-stroke:0.08px #222;">0</span>
<span class="a" style="left:303.70px;top:169.44px;width:60px;text-align:right;font-size:6.9px;color:#222;white-space:nowrap;-webkit-text-stroke:0.08px #222;">0</span>
<span class="a" style="left:332.70px;top:169.44px;width:60px;text-align:right;font-size:6.9px;color:#222;white-space:nowrap;-webkit-text-stroke:0.08px #222;">0</span>
<span class="a" style="left:360.70px;top:169.44px;width:60px;text-align:right;font-size:6.9px;color:#222;white-space:nowrap;-webkit-text-stroke:0.08px #222;">0</span>
<span class="a" style="left:388.70px;top:169.44px;width:60px;text-align:right;font-size:6.9px;color:#222;white-space:nowrap;-webkit-text-stroke:0.08px #222;">0</span>
<span class="a" style="left:415.70px;top:169.44px;width:60px;text-align:right;font-size:6.9px;color:#222;white-space:nowrap;-webkit-text-stroke:0.08px #222;">0</span>
<span class="a" style="left:443.70px;top:169.44px;width:60px;text-align:right;font-size:6.9px;color:#222;white-space:nowrap;-webkit-text-stroke:0.08px #222;">0</span>
<span class="a" style="left:471.70px;top:169.44px;width:60px;text-align:right;font-size:6.9px;color:#222;white-space:nowrap;-webkit-text-stroke:0.08px #222;">80</span>
<span class="a" style="left:499.70px;top:169.44px;width:60px;text-align:right;font-size:6.9px;color:#222;white-space:nowrap;-webkit-text-stroke:0.08px #222;">300</span>
<span class="a" style="left:527.70px;top:169.44px;width:60px;text-align:right;font-size:6.9px;color:#222;white-space:nowrap;-webkit-text-stroke:0.08px #222;">318</span>
<span class="a" style="left:555.70px;top:169.44px;width:60px;text-align:right;font-size:6.9px;color:#222;white-space:nowrap;-webkit-text-stroke:0.08px #222;">304</span>
<span class="a" style="left:583.70px;top:169.44px;width:60px;text-align:right;font-size:6.9px;color:#222;white-space:nowrap;-webkit-text-stroke:0.08px #222;">136</span>
<span class="a" style="left:611.70px;top:169.44px;width:60px;text-align:right;font-size:6.9px;color:#222;white-space:nowrap;-webkit-text-stroke:0.08px #222;">96</span>
<span class="a" style="left:639.70px;top:169.44px;width:60px;text-align:right;font-size:6.9px;color:#222;white-space:nowrap;-webkit-text-stroke:0.08px #222;">120</span>
<span class="a" style="left:667.70px;top:169.44px;width:60px;text-align:right;font-size:6.9px;color:#222;white-space:nowrap;-webkit-text-stroke:0.08px #222;">181</span>
<span class="a" style="left:695.70px;top:169.44px;width:60px;text-align:right;font-size:6.9px;color:#222;white-space:nowrap;-webkit-text-stroke:0.08px #222;">201</span>
<span class="a" style="left:723.70px;top:169.44px;width:60px;text-align:right;font-size:6.9px;color:#222;white-space:nowrap;-webkit-text-stroke:0.08px #222;">138</span>
<span class="a" style="left:751.70px;top:169.44px;width:60px;text-align:right;font-size:6.9px;color:#222;white-space:nowrap;-webkit-text-stroke:0.08px #222;">68</span>
<span class="a" style="left:779.70px;top:169.44px;width:60px;text-align:right;font-size:6.9px;color:#222;white-space:nowrap;-webkit-text-stroke:0.08px #222;">1</span>
<span class="a" style="left:-20.30px;top:183.16px;width:60px;text-align:right;font-size:6.9px;color:#222;white-space:nowrap;-webkit-text-stroke:0.08px #222;">4</span>
<span class="a" style="left:43.80px;top:182.96px;font-size:6.9px;color:#222;white-space:nowrap;-webkit-text-stroke:0.08px #222;">雲出長常店</span>
<span class="a" style="left:192.70px;top:183.16px;width:60px;text-align:right;font-size:6.9px;color:#222;white-space:nowrap;-webkit-text-stroke:0.08px #222;">1,609</span>
<span class="a" style="left:220.70px;top:183.16px;width:60px;text-align:right;font-size:6.9px;color:#222;white-space:nowrap;-webkit-text-stroke:0.08px #222;">0</span>
<span class="a" style="left:248.70px;top:183.16px;width:60px;text-align:right;font-size:6.9px;color:#222;white-space:nowrap;-webkit-text-stroke:0.08px #222;">0</span>
<span class="a" style="left:276.70px;top:183.16px;width:60px;text-align:right;font-size:6.9px;color:#222;white-space:nowrap;-webkit-text-stroke:0.08px #222;">0</span>
<span class="a" style="left:303.70px;top:183.16px;width:60px;text-align:right;font-size:6.9px;color:#222;white-space:nowrap;-webkit-text-stroke:0.08px #222;">0</span>
<span class="a" style="left:332.70px;top:183.16px;width:60px;text-align:right;font-size:6.9px;color:#222;white-space:nowrap;-webkit-text-stroke:0.08px #222;">0</span>
<span class="a" style="left:360.70px;top:183.16px;width:60px;text-align:right;font-size:6.9px;color:#222;white-space:nowrap;-webkit-text-stroke:0.08px #222;">0</span>
<span class="a" style="left:388.70px;top:183.16px;width:60px;text-align:right;font-size:6.9px;color:#222;white-space:nowrap;-webkit-text-stroke:0.08px #222;">0</span>
<span class="a" style="left:415.70px;top:183.16px;width:60px;text-align:right;font-size:6.9px;color:#222;white-space:nowrap;-webkit-text-stroke:0.08px #222;">0</span>
<span class="a" style="left:443.70px;top:183.16px;width:60px;text-align:right;font-size:6.9px;color:#222;white-space:nowrap;-webkit-text-stroke:0.08px #222;">0</span>
<span class="a" style="left:471.70px;top:183.16px;width:60px;text-align:right;font-size:6.9px;color:#222;white-space:nowrap;-webkit-text-stroke:0.08px #222;">52</span>
<span class="a" style="left:499.70px;top:183.16px;width:60px;text-align:right;font-size:6.9px;color:#222;white-space:nowrap;-webkit-text-stroke:0.08px #222;">230</span>
<span class="a" style="left:527.70px;top:183.16px;width:60px;text-align:right;font-size:6.9px;color:#222;white-space:nowrap;-webkit-text-stroke:0.08px #222;">217</span>
<span class="a" style="left:555.70px;top:183.16px;width:60px;text-align:right;font-size:6.9px;color:#222;white-space:nowrap;-webkit-text-stroke:0.08px #222;">186</span>
<span class="a" style="left:583.70px;top:183.16px;width:60px;text-align:right;font-size:6.9px;color:#222;white-space:nowrap;-webkit-text-stroke:0.08px #222;">50</span>
<span class="a" style="left:611.70px;top:183.16px;width:60px;text-align:right;font-size:6.9px;color:#222;white-space:nowrap;-webkit-text-stroke:0.08px #222;">57</span>
<span class="a" style="left:639.70px;top:183.16px;width:60px;text-align:right;font-size:6.9px;color:#222;white-space:nowrap;-webkit-text-stroke:0.08px #222;">191</span>
<span class="a" style="left:667.70px;top:183.16px;width:60px;text-align:right;font-size:6.9px;color:#222;white-space:nowrap;-webkit-text-stroke:0.08px #222;">221</span>
<span class="a" style="left:695.70px;top:183.16px;width:60px;text-align:right;font-size:6.9px;color:#222;white-space:nowrap;-webkit-text-stroke:0.08px #222;">183</span>
<span class="a" style="left:723.70px;top:183.16px;width:60px;text-align:right;font-size:6.9px;color:#222;white-space:nowrap;-webkit-text-stroke:0.08px #222;">183</span>
<span class="a" style="left:751.70px;top:183.16px;width:60px;text-align:right;font-size:6.9px;color:#222;white-space:nowrap;-webkit-text-stroke:0.08px #222;">39</span>
<span class="a" style="left:779.70px;top:183.16px;width:60px;text-align:right;font-size:6.9px;color:#222;white-space:nowrap;-webkit-text-stroke:0.08px #222;">0</span>
<span class="a" style="left:-20.30px;top:196.88px;width:60px;text-align:right;font-size:6.9px;color:#222;white-space:nowrap;-webkit-text-stroke:0.08px #222;">5</span>
<span class="a" style="left:43.80px;top:196.68px;font-size:6.9px;color:#222;white-space:nowrap;-webkit-text-stroke:0.08px #222;">日本HS店</span>
<span class="a" style="left:192.70px;top:196.88px;width:60px;text-align:right;font-size:6.9px;color:#222;white-space:nowrap;-webkit-text-stroke:0.08px #222;">1,228</span>
<span class="a" style="left:220.70px;top:196.88px;width:60px;text-align:right;font-size:6.9px;color:#222;white-space:nowrap;-webkit-text-stroke:0.08px #222;">0</span>
<span class="a" style="left:248.70px;top:196.88px;width:60px;text-align:right;font-size:6.9px;color:#222;white-space:nowrap;-webkit-text-stroke:0.08px #222;">0</span>
<span class="a" style="left:276.70px;top:196.88px;width:60px;text-align:right;font-size:6.9px;color:#222;white-space:nowrap;-webkit-text-stroke:0.08px #222;">0</span>
<span class="a" style="left:303.70px;top:196.88px;width:60px;text-align:right;font-size:6.9px;color:#222;white-space:nowrap;-webkit-text-stroke:0.08px #222;">0</span>
<span class="a" style="left:332.70px;top:196.88px;width:60px;text-align:right;font-size:6.9px;color:#222;white-space:nowrap;-webkit-text-stroke:0.08px #222;">0</span>
<span class="a" style="left:360.70px;top:196.88px;width:60px;text-align:right;font-size:6.9px;color:#222;white-space:nowrap;-webkit-text-stroke:0.08px #222;">0</span>
<span class="a" style="left:388.70px;top:196.88px;width:60px;text-align:right;font-size:6.9px;color:#222;white-space:nowrap;-webkit-text-stroke:0.08px #222;">0</span>
<span class="a" style="left:415.70px;top:196.88px;width:60px;text-align:right;font-size:6.9px;color:#222;white-space:nowrap;-webkit-text-stroke:0.08px #222;">0</span>
<span class="a" style="left:443.70px;top:196.88px;width:60px;text-align:right;font-size:6.9px;color:#222;white-space:nowrap;-webkit-text-stroke:0.08px #222;">26</span>
<span class="a" style="left:471.70px;top:196.88px;width:60px;text-align:right;font-size:6.9px;color:#222;white-space:nowrap;-webkit-text-stroke:0.08px #222;">212</span>
<span class="a" style="left:499.70px;top:196.88px;width:60px;text-align:right;font-size:6.9px;color:#222;white-space:nowrap;-webkit-text-stroke:0.08px #222;">241</span>
<span class="a" style="left:527.70px;top:196.88px;width:60px;text-align:right;font-size:6.9px;color:#222;white-space:nowrap;-webkit-text-stroke:0.08px #222;">225</span>
<span class="a" style="left:555.70px;top:196.88px;width:60px;text-align:right;font-size:6.9px;color:#222;white-space:nowrap;-webkit-text-stroke:0.08px #222;">147</span>
<span class="a" style="left:583.70px;top:196.88px;width:60px;text-align:right;font-size:6.9px;color:#222;white-space:nowrap;-webkit-text-stroke:0.08px #222;">79</span>
<span class="a" style="left:611.70px;top:196.88px;width:60px;text-align:right;font-size:6.9px;color:#222;white-space:nowrap;-webkit-text-stroke:0.08px #222;">113</span>
<span class="a" style="left:639.70px;top:196.88px;width:60px;text-align:right;font-size:6.9px;color:#222;white-space:nowrap;-webkit-text-stroke:0.08px #222;">109</span>
<span class="a" style="left:667.70px;top:196.88px;width:60px;text-align:right;font-size:6.9px;color:#222;white-space:nowrap;-webkit-text-stroke:0.08px #222;">55</span>
<span class="a" style="left:695.70px;top:196.88px;width:60px;text-align:right;font-size:6.9px;color:#222;white-space:nowrap;-webkit-text-stroke:0.08px #222;">21</span>
<span class="a" style="left:723.70px;top:196.88px;width:60px;text-align:right;font-size:6.9px;color:#222;white-space:nowrap;-webkit-text-stroke:0.08px #222;">0</span>
<span class="a" style="left:751.70px;top:196.88px;width:60px;text-align:right;font-size:6.9px;color:#222;white-space:nowrap;-webkit-text-stroke:0.08px #222;">0</span>
<span class="a" style="left:779.70px;top:196.88px;width:60px;text-align:right;font-size:6.9px;color:#222;white-space:nowrap;-webkit-text-stroke:0.08px #222;">0</span>
<div class="a" style="left:19.60px;top:202.30px;width:829.90px;height:7.90px;background:#f0f0f0;"></div>
<div class="a" style="left:37.00px;top:202.90px;width:728.50px;height:6.90px;background:#c6c6c6;"></div>
<svg class="a" style="left:28px;top:203.5px" width="5" height="6" viewBox="0 0 5 6"><path d="M3.8 0.6L1.2 3L3.8 5.4" stroke="#222" stroke-width="1.2" fill="none"/></svg>
<svg class="a" style="left:836.5px;top:203.5px" width="5" height="6" viewBox="0 0 5 6"><path d="M1.2 0.6L3.8 3L1.2 5.4" stroke="#222" stroke-width="1.2" fill="none"/></svg>
<div class="a" style="left:849.50px;top:140.00px;width:8.90px;height:70.20px;background:#f4f4f4;"></div>
<div class="a" style="left:850.00px;top:157.00px;width:8.40px;height:11.90px;background:#cbcbcb;"></div>
<svg class="a" style="left:851.5px;top:148.5px" width="6" height="5" viewBox="0 0 6 5"><path d="M0.6 3.8L3 1.2L5.4 3.8" stroke="#222" stroke-width="1.1" fill="none"/></svg>
<svg class="a" style="left:851.5px;top:188.3px" width="6" height="5" viewBox="0 0 6 5"><path d="M0.6 1.2L3 3.8L5.4 1.2" stroke="#222" stroke-width="1.1" fill="none"/></svg>
<div class="a" style="left:19.60px;top:209.70px;width:839.80px;height:1.00px;background:#e2e2e2;"></div>
<span class="a" style="left:43.80px;top:213.00px;font-size:6.9px;color:#222;white-space:nowrap;-webkit-text-stroke:0.08px #222;">合計</span>
<span class="a" style="left:192.70px;top:213.00px;width:60px;text-align:right;font-size:6.9px;color:#222;white-space:nowrap;-webkit-text-stroke:0.08px #222;">20,926</span>
<span class="a" style="left:220.70px;top:213.00px;width:60px;text-align:right;font-size:6.9px;color:#222;white-space:nowrap;-webkit-text-stroke:0.08px #222;">0</span>
<span class="a" style="left:248.70px;top:213.00px;width:60px;text-align:right;font-size:6.9px;color:#222;white-space:nowrap;-webkit-text-stroke:0.08px #222;">0</span>
<span class="a" style="left:276.70px;top:213.00px;width:60px;text-align:right;font-size:6.9px;color:#222;white-space:nowrap;-webkit-text-stroke:0.08px #222;">0</span>
<span class="a" style="left:303.70px;top:213.00px;width:60px;text-align:right;font-size:6.9px;color:#222;white-space:nowrap;-webkit-text-stroke:0.08px #222;">0</span>
<span class="a" style="left:332.70px;top:213.00px;width:60px;text-align:right;font-size:6.9px;color:#222;white-space:nowrap;-webkit-text-stroke:0.08px #222;">0</span>
<span class="a" style="left:360.70px;top:213.00px;width:60px;text-align:right;font-size:6.9px;color:#222;white-space:nowrap;-webkit-text-stroke:0.08px #222;">0</span>
<span class="a" style="left:388.70px;top:213.00px;width:60px;text-align:right;font-size:6.9px;color:#222;white-space:nowrap;-webkit-text-stroke:0.08px #222;">0</span>
<span class="a" style="left:415.70px;top:213.00px;width:60px;text-align:right;font-size:6.9px;color:#222;white-space:nowrap;-webkit-text-stroke:0.08px #222;">0</span>
<span class="a" style="left:443.70px;top:213.00px;width:60px;text-align:right;font-size:6.9px;color:#222;white-space:nowrap;-webkit-text-stroke:0.08px #222;">62</span>
<span class="a" style="left:471.70px;top:213.00px;width:60px;text-align:right;font-size:6.9px;color:#222;white-space:nowrap;-webkit-text-stroke:0.08px #222;">1,680</span>
<span class="a" style="left:499.70px;top:213.00px;width:60px;text-align:right;font-size:6.9px;color:#222;white-space:nowrap;-webkit-text-stroke:0.08px #222;">3,412</span>
<span class="a" style="left:527.70px;top:213.00px;width:60px;text-align:right;font-size:6.9px;color:#222;white-space:nowrap;-webkit-text-stroke:0.08px #222;">3,556</span>
<span class="a" style="left:555.70px;top:213.00px;width:60px;text-align:right;font-size:6.9px;color:#222;white-space:nowrap;-webkit-text-stroke:0.08px #222;">2,794</span>
<span class="a" style="left:583.70px;top:213.00px;width:60px;text-align:right;font-size:6.9px;color:#222;white-space:nowrap;-webkit-text-stroke:0.08px #222;">1,438</span>
<span class="a" style="left:611.70px;top:213.00px;width:60px;text-align:right;font-size:6.9px;color:#222;white-space:nowrap;-webkit-text-stroke:0.08px #222;">1,644</span>
<span class="a" style="left:639.70px;top:213.00px;width:60px;text-align:right;font-size:6.9px;color:#222;white-space:nowrap;-webkit-text-stroke:0.08px #222;">2,198</span>
<span class="a" style="left:667.70px;top:213.00px;width:60px;text-align:right;font-size:6.9px;color:#222;white-space:nowrap;-webkit-text-stroke:0.08px #222;">2,050</span>
<span class="a" style="left:695.70px;top:213.00px;width:60px;text-align:right;font-size:6.9px;color:#222;white-space:nowrap;-webkit-text-stroke:0.08px #222;">1,178</span>
<span class="a" style="left:723.70px;top:213.00px;width:60px;text-align:right;font-size:6.9px;color:#222;white-space:nowrap;-webkit-text-stroke:0.08px #222;">678</span>
<span class="a" style="left:751.70px;top:213.00px;width:60px;text-align:right;font-size:6.9px;color:#222;white-space:nowrap;-webkit-text-stroke:0.08px #222;">234</span>
<span class="a" style="left:779.70px;top:213.00px;width:60px;text-align:right;font-size:6.9px;color:#222;white-space:nowrap;-webkit-text-stroke:0.08px #222;">2</span>
<svg class="a" style="left:-50px;top:-134px;font-family:'Liberation Sans',sans-serif" width="988" height="632" viewBox="0 0 988 632"><rect x="94.8" y="370.8" width="807.9000000000001" height="120.69999999999999" fill="#fffdf6"/><line x1="128.46" y1="370.8" x2="128.46" y2="491.5" stroke="#dddcd6" stroke-width="0.9"/><line x1="162.12" y1="370.8" x2="162.12" y2="491.5" stroke="#dddcd6" stroke-width="0.9"/><line x1="195.79" y1="370.8" x2="195.79" y2="491.5" stroke="#dddcd6" stroke-width="0.9"/><line x1="229.45" y1="370.8" x2="229.45" y2="491.5" stroke="#dddcd6" stroke-width="0.9"/><line x1="263.11" y1="370.8" x2="263.11" y2="491.5" stroke="#dddcd6" stroke-width="0.9"/><line x1="296.78" y1="370.8" x2="296.78" y2="491.5" stroke="#dddcd6" stroke-width="0.9"/><line x1="330.44" y1="370.8" x2="330.44" y2="491.5" stroke="#dddcd6" stroke-width="0.9"/><line x1="364.10" y1="370.8" x2="364.10" y2="491.5" stroke="#dddcd6" stroke-width="0.9"/><line x1="397.76" y1="370.8" x2="397.76" y2="491.5" stroke="#dddcd6" stroke-width="0.9"/><line x1="431.43" y1="370.8" x2="431.43" y2="491.5" stroke="#dddcd6" stroke-width="0.9"/><line x1="465.09" y1="370.8" x2="465.09" y2="491.5" stroke="#dddcd6" stroke-width="0.9"/><line x1="498.75" y1="370.8" x2="498.75" y2="491.5" stroke="#dddcd6" stroke-width="0.9"/><line x1="532.41" y1="370.8" x2="532.41" y2="491.5" stroke="#dddcd6" stroke-width="0.9"/><line x1="566.08" y1="370.8" x2="566.08" y2="491.5" stroke="#dddcd6" stroke-width="0.9"/><line x1="599.74" y1="370.8" x2="599.74" y2="491.5" stroke="#dddcd6" stroke-width="0.9"/><line x1="633.40" y1="370.8" x2="633.40" y2="491.5" stroke="#dddcd6" stroke-width="0.9"/><line x1="667.06" y1="370.8" x2="667.06" y2="491.5" stroke="#dddcd6" stroke-width="0.9"/><line x1="700.73" y1="370.8" x2="700.73" y2="491.5" stroke="#dddcd6" stroke-width="0.9"/><line x1="734.39" y1="370.8" x2="734.39" y2="491.5" stroke="#dddcd6" stroke-width="0.9"/><line x1="768.05" y1="370.8" x2="768.05" y2="491.5" stroke="#dddcd6" stroke-width="0.9"/><line x1="801.71" y1="370.8" x2="801.71" y2="491.5" stroke="#dddcd6" stroke-width="0.9"/><line x1="835.38" y1="370.8" x2="835.38" y2="491.5" stroke="#dddcd6" stroke-width="0.9"/><line x1="869.04" y1="370.8" x2="869.04" y2="491.5" stroke="#dddcd6" stroke-width="0.9"/><line x1="94.8" y1="474.26" x2="902.7" y2="474.26" stroke="#dddcd6" stroke-width="0.9"/><line x1="94.8" y1="457.01" x2="902.7" y2="457.01" stroke="#dddcd6" stroke-width="0.9"/><line x1="94.8" y1="439.77" x2="902.7" y2="439.77" stroke="#dddcd6" stroke-width="0.9"/><line x1="94.8" y1="422.53" x2="902.7" y2="422.53" stroke="#dddcd6" stroke-width="0.9"/><line x1="94.8" y1="405.29" x2="902.7" y2="405.29" stroke="#dddcd6" stroke-width="0.9"/><line x1="94.8" y1="388.04" x2="902.7" y2="388.04" stroke="#dddcd6" stroke-width="0.9"/><rect x="95.6" y="371.6" width="807.9000000000001" height="120.69999999999999" fill="none" stroke="#000" stroke-opacity="0.15" stroke-width="1.4"/><rect x="94.8" y="370.8" width="807.9000000000001" height="120.69999999999999" fill="none" stroke="#777" stroke-width="1"/><line x1="91.8" y1="491.50" x2="94.8" y2="491.50" stroke="#888" stroke-width="0.6"/><text x="89.8" y="493.00" font-size="4.3" text-anchor="end" fill="#444">-150</text><line x1="91.8" y1="474.26" x2="94.8" y2="474.26" stroke="#888" stroke-width="0.6"/><text x="89.8" y="475.76" font-size="4.3" text-anchor="end" fill="#444">-50</text><line x1="91.8" y1="457.01" x2="94.8" y2="457.01" stroke="#888" stroke-width="0.6"/><text x="89.8" y="458.51" font-size="4.3" text-anchor="end" fill="#444">50</text><line x1="91.8" y1="439.77" x2="94.8" y2="439.77" stroke="#888" stroke-width="0.6"/><text x="89.8" y="441.27" font-size="4.3" text-anchor="end" fill="#444">150</text><line x1="91.8" y1="422.53" x2="94.8" y2="422.53" stroke="#888" stroke-width="0.6"/><text x="89.8" y="424.03" font-size="4.3" text-anchor="end" fill="#444">250</text><line x1="91.8" y1="405.29" x2="94.8" y2="405.29" stroke="#888" stroke-width="0.6"/><text x="89.8" y="406.79" font-size="4.3" text-anchor="end" fill="#444">350</text><line x1="91.8" y1="388.04" x2="94.8" y2="388.04" stroke="#888" stroke-width="0.6"/><text x="89.8" y="389.54" font-size="4.3" text-anchor="end" fill="#444">450</text><line x1="91.8" y1="370.80" x2="94.8" y2="370.80" stroke="#888" stroke-width="0.6"/><text x="89.8" y="372.30" font-size="4.3" text-anchor="end" fill="#444">550</text><line x1="94.80" y1="491.5" x2="94.80" y2="494.0" stroke="#888" stroke-width="0.6"/><text x="94.80" y="501.30" font-size="4.3" text-anchor="middle" fill="#444">0</text><line x1="128.46" y1="491.5" x2="128.46" y2="494.0" stroke="#888" stroke-width="0.6"/><text x="128.46" y="501.30" font-size="4.3" text-anchor="middle" fill="#444">1</text><line x1="162.12" y1="491.5" x2="162.12" y2="494.0" stroke="#888" stroke-width="0.6"/><text x="162.12" y="501.30" font-size="4.3" text-anchor="middle" fill="#444">2</text><line x1="195.79" y1="491.5" x2="195.79" y2="494.0" stroke="#888" stroke-width="0.6"/><text x="195.79" y="501.30" font-size="4.3" text-anchor="middle" fill="#444">3</text><line x1="229.45" y1="491.5" x2="229.45" y2="494.0" stroke="#888" stroke-width="0.6"/><text x="229.45" y="501.30" font-size="4.3" text-anchor="middle" fill="#444">4</text><line x1="263.11" y1="491.5" x2="263.11" y2="494.0" stroke="#888" stroke-width="0.6"/><text x="263.11" y="501.30" font-size="4.3" text-anchor="middle" fill="#444">5</text><line x1="296.78" y1="491.5" x2="296.78" y2="494.0" stroke="#888" stroke-width="0.6"/><text x="296.78" y="501.30" font-size="4.3" text-anchor="middle" fill="#444">6</text><line x1="330.44" y1="491.5" x2="330.44" y2="494.0" stroke="#888" stroke-width="0.6"/><text x="330.44" y="501.30" font-size="4.3" text-anchor="middle" fill="#444">7</text><line x1="364.10" y1="491.5" x2="364.10" y2="494.0" stroke="#888" stroke-width="0.6"/><text x="364.10" y="501.30" font-size="4.3" text-anchor="middle" fill="#444">8</text><line x1="397.76" y1="491.5" x2="397.76" y2="494.0" stroke="#888" stroke-width="0.6"/><text x="397.76" y="501.30" font-size="4.3" text-anchor="middle" fill="#444">9</text><line x1="431.43" y1="491.5" x2="431.43" y2="494.0" stroke="#888" stroke-width="0.6"/><text x="431.43" y="501.30" font-size="4.3" text-anchor="middle" fill="#444">10</text><line x1="465.09" y1="491.5" x2="465.09" y2="494.0" stroke="#888" stroke-width="0.6"/><text x="465.09" y="501.30" font-size="4.3" text-anchor="middle" fill="#444">11</text><line x1="498.75" y1="491.5" x2="498.75" y2="494.0" stroke="#888" stroke-width="0.6"/><text x="498.75" y="501.30" font-size="4.3" text-anchor="middle" fill="#444">12</text><line x1="532.41" y1="491.5" x2="532.41" y2="494.0" stroke="#888" stroke-width="0.6"/><text x="532.41" y="501.30" font-size="4.3" text-anchor="middle" fill="#444">13</text><line x1="566.08" y1="491.5" x2="566.08" y2="494.0" stroke="#888" stroke-width="0.6"/><text x="566.08" y="501.30" font-size="4.3" text-anchor="middle" fill="#444">14</text><line x1="599.74" y1="491.5" x2="599.74" y2="494.0" stroke="#888" stroke-width="0.6"/><text x="599.74" y="501.30" font-size="4.3" text-anchor="middle" fill="#444">15</text><line x1="633.40" y1="491.5" x2="633.40" y2="494.0" stroke="#888" stroke-width="0.6"/><text x="633.40" y="501.30" font-size="4.3" text-anchor="middle" fill="#444">16</text><line x1="667.06" y1="491.5" x2="667.06" y2="494.0" stroke="#888" stroke-width="0.6"/><text x="667.06" y="501.30" font-size="4.3" text-anchor="middle" fill="#444">17</text><line x1="700.73" y1="491.5" x2="700.73" y2="494.0" stroke="#888" stroke-width="0.6"/><text x="700.73" y="501.30" font-size="4.3" text-anchor="middle" fill="#444">18</text><line x1="734.39" y1="491.5" x2="734.39" y2="494.0" stroke="#888" stroke-width="0.6"/><text x="734.39" y="501.30" font-size="4.3" text-anchor="middle" fill="#444">19</text><line x1="768.05" y1="491.5" x2="768.05" y2="494.0" stroke="#888" stroke-width="0.6"/><text x="768.05" y="501.30" font-size="4.3" text-anchor="middle" fill="#444">20</text><line x1="801.71" y1="491.5" x2="801.71" y2="494.0" stroke="#888" stroke-width="0.6"/><text x="801.71" y="501.30" font-size="4.3" text-anchor="middle" fill="#444">21</text><line x1="835.38" y1="491.5" x2="835.38" y2="494.0" stroke="#888" stroke-width="0.6"/><text x="835.38" y="501.30" font-size="4.3" text-anchor="middle" fill="#444">22</text><line x1="869.04" y1="491.5" x2="869.04" y2="494.0" stroke="#888" stroke-width="0.6"/><text x="869.04" y="501.30" font-size="4.3" text-anchor="middle" fill="#444">23</text><line x1="902.70" y1="491.5" x2="902.70" y2="494.0" stroke="#888" stroke-width="0.6"/><text x="902.70" y="501.30" font-size="4.3" text-anchor="middle" fill="#444">24</text><clipPath id="cp"><rect x="94.8" y="366.8" width="811.9000000000001" height="124.69999999999999"/></clipPath><g clip-path="url(#cp)"><polyline points="94.80,465.64 128.46,465.64 162.12,465.64 195.79,465.64 229.45,465.64 263.11,465.64 296.78,465.64 330.44,465.64 364.10,465.64 397.76,456.67 431.43,425.98 465.09,428.22 498.75,433.56 532.41,457.01 566.08,455.81 599.74,432.70 633.40,427.53 667.06,434.08 700.73,434.08 734.39,458.91 768.05,465.64 801.71,465.64 835.38,465.64 869.04,465.64" fill="none" stroke="#000" stroke-opacity="0.12" stroke-width="1.6" transform="translate(0.9,1.4)"/><polyline points="94.80,465.64 128.46,465.64 162.12,465.64 195.79,465.64 229.45,465.64 263.11,465.64 296.78,465.64 330.44,465.64 364.10,465.64 397.76,456.67 431.43,425.98 465.09,428.22 498.75,433.56 532.41,457.01 566.08,455.81 599.74,432.70 633.40,427.53 667.06,434.08 700.73,434.08 734.39,458.91 768.05,465.64 801.71,465.64 835.38,465.64 869.04,465.64" fill="none" stroke="#000" stroke-opacity="0.08" stroke-width="1.6" transform="translate(1.6,2.2)"/><polyline points="94.80,465.64 128.46,465.64 162.12,465.64 195.79,465.64 229.45,465.64 263.11,465.64 296.78,465.64 330.44,465.64 364.10,465.64 397.76,456.67 431.43,425.98 465.09,428.22 498.75,433.56 532.41,457.01 566.08,455.81 599.74,432.70 633.40,427.53 667.06,434.08 700.73,434.08 734.39,458.91 768.05,465.64 801.71,465.64 835.38,465.64 869.04,465.64" fill="none" stroke="#4bb2c5" stroke-width="1.5" stroke-linejoin="round"/><circle cx="95.60" cy="466.74" r="2.5" fill="#000" fill-opacity="0.15"/><circle cx="94.80" cy="465.64" r="2.4" fill="#4bb2c5"/><circle cx="129.26" cy="466.74" r="2.5" fill="#000" fill-opacity="0.15"/><circle cx="128.46" cy="465.64" r="2.4" fill="#4bb2c5"/><circle cx="162.93" cy="466.74" r="2.5" fill="#000" fill-opacity="0.15"/><circle cx="162.12" cy="465.64" r="2.4" fill="#4bb2c5"/><circle cx="196.59" cy="466.74" r="2.5" fill="#000" fill-opacity="0.15"/><circle cx="195.79" cy="465.64" r="2.4" fill="#4bb2c5"/><circle cx="230.25" cy="466.74" r="2.5" fill="#000" fill-opacity="0.15"/><circle cx="229.45" cy="465.64" r="2.4" fill="#4bb2c5"/><circle cx="263.91" cy="466.74" r="2.5" fill="#000" fill-opacity="0.15"/><circle cx="263.11" cy="465.64" r="2.4" fill="#4bb2c5"/><circle cx="297.58" cy="466.74" r="2.5" fill="#000" fill-opacity="0.15"/><circle cx="296.78" cy="465.64" r="2.4" fill="#4bb2c5"/><circle cx="331.24" cy="466.74" r="2.5" fill="#000" fill-opacity="0.15"/><circle cx="330.44" cy="465.64" r="2.4" fill="#4bb2c5"/><circle cx="364.90" cy="466.74" r="2.5" fill="#000" fill-opacity="0.15"/><circle cx="364.10" cy="465.64" r="2.4" fill="#4bb2c5"/><circle cx="398.56" cy="457.77" r="2.5" fill="#000" fill-opacity="0.15"/><circle cx="397.76" cy="456.67" r="2.4" fill="#4bb2c5"/><circle cx="432.23" cy="427.08" r="2.5" fill="#000" fill-opacity="0.15"/><circle cx="431.43" cy="425.98" r="2.4" fill="#4bb2c5"/><circle cx="465.89" cy="429.32" r="2.5" fill="#000" fill-opacity="0.15"/><circle cx="465.09" cy="428.22" r="2.4" fill="#4bb2c5"/><circle cx="499.55" cy="434.66" r="2.5" fill="#000" fill-opacity="0.15"/><circle cx="498.75" cy="433.56" r="2.4" fill="#4bb2c5"/><circle cx="533.21" cy="458.11" r="2.5" fill="#000" fill-opacity="0.15"/><circle cx="532.41" cy="457.01" r="2.4" fill="#4bb2c5"/><circle cx="566.88" cy="456.91" r="2.5" fill="#000" fill-opacity="0.15"/><circle cx="566.08" cy="455.81" r="2.4" fill="#4bb2c5"/><circle cx="600.54" cy="433.80" r="2.5" fill="#000" fill-opacity="0.15"/><circle cx="599.74" cy="432.70" r="2.4" fill="#4bb2c5"/><circle cx="634.20" cy="428.63" r="2.5" fill="#000" fill-opacity="0.15"/><circle cx="633.40" cy="427.53" r="2.4" fill="#4bb2c5"/><circle cx="667.86" cy="435.18" r="2.5" fill="#000" fill-opacity="0.15"/><circle cx="667.06" cy="434.08" r="2.4" fill="#4bb2c5"/><circle cx="701.52" cy="435.18" r="2.5" fill="#000" fill-opacity="0.15"/><circle cx="700.73" cy="434.08" r="2.4" fill="#4bb2c5"/><circle cx="735.19" cy="460.01" r="2.5" fill="#000" fill-opacity="0.15"/><circle cx="734.39" cy="458.91" r="2.4" fill="#4bb2c5"/><circle cx="768.85" cy="466.74" r="2.5" fill="#000" fill-opacity="0.15"/><circle cx="768.05" cy="465.64" r="2.4" fill="#4bb2c5"/><circle cx="802.51" cy="466.74" r="2.5" fill="#000" fill-opacity="0.15"/><circle cx="801.71" cy="465.64" r="2.4" fill="#4bb2c5"/><circle cx="836.18" cy="466.74" r="2.5" fill="#000" fill-opacity="0.15"/><circle cx="835.38" cy="465.64" r="2.4" fill="#4bb2c5"/><circle cx="869.84" cy="466.74" r="2.5" fill="#000" fill-opacity="0.15"/><circle cx="869.04" cy="465.64" r="2.4" fill="#4bb2c5"/><polyline points="94.80,465.64 128.46,465.64 162.12,465.64 195.79,465.64 229.45,465.64 263.11,465.64 296.78,465.64 330.44,465.64 364.10,461.15 397.76,429.08 431.43,424.08 465.09,426.84 498.75,440.29 532.41,452.01 566.08,446.15 599.74,446.84 633.40,456.15 667.06,462.01 700.73,465.64 734.39,465.64 768.05,465.64 801.71,465.64 835.38,465.64 869.04,465.64" fill="none" stroke="#000" stroke-opacity="0.12" stroke-width="1.6" transform="translate(0.9,1.4)"/><polyline points="94.80,465.64 128.46,465.64 162.12,465.64 195.79,465.64 229.45,465.64 263.11,465.64 296.78,465.64 330.44,465.64 364.10,461.15 397.76,429.08 431.43,424.08 465.09,426.84 498.75,440.29 532.41,452.01 566.08,446.15 599.74,446.84 633.40,456.15 667.06,462.01 700.73,465.64 734.39,465.64 768.05,465.64 801.71,465.64 835.38,465.64 869.04,465.64" fill="none" stroke="#000" stroke-opacity="0.08" stroke-width="1.6" transform="translate(1.6,2.2)"/><polyline points="94.80,465.64 128.46,465.64 162.12,465.64 195.79,465.64 229.45,465.64 263.11,465.64 296.78,465.64 330.44,465.64 364.10,461.15 397.76,429.08 431.43,424.08 465.09,426.84 498.75,440.29 532.41,452.01 566.08,446.15 599.74,446.84 633.40,456.15 667.06,462.01 700.73,465.64 734.39,465.64 768.05,465.64 801.71,465.64 835.38,465.64 869.04,465.64" fill="none" stroke="#eaa228" stroke-width="1.5" stroke-linejoin="round"/><circle cx="95.60" cy="466.74" r="2.5" fill="#000" fill-opacity="0.15"/><circle cx="94.80" cy="465.64" r="2.4" fill="#eaa228"/><circle cx="129.26" cy="466.74" r="2.5" fill="#000" fill-opacity="0.15"/><circle cx="128.46" cy="465.64" r="2.4" fill="#eaa228"/><circle cx="162.93" cy="466.74" r="2.5" fill="#000" fill-opacity="0.15"/><circle cx="162.12" cy="465.64" r="2.4" fill="#eaa228"/><circle cx="196.59" cy="466.74" r="2.5" fill="#000" fill-opacity="0.15"/><circle cx="195.79" cy="465.64" r="2.4" fill="#eaa228"/><circle cx="230.25" cy="466.74" r="2.5" fill="#000" fill-opacity="0.15"/><circle cx="229.45" cy="465.64" r="2.4" fill="#eaa228"/><circle cx="263.91" cy="466.74" r="2.5" fill="#000" fill-opacity="0.15"/><circle cx="263.11" cy="465.64" r="2.4" fill="#eaa228"/><circle cx="297.58" cy="466.74" r="2.5" fill="#000" fill-opacity="0.15"/><circle cx="296.78" cy="465.64" r="2.4" fill="#eaa228"/><circle cx="331.24" cy="466.74" r="2.5" fill="#000" fill-opacity="0.15"/><circle cx="330.44" cy="465.64" r="2.4" fill="#eaa228"/><circle cx="364.90" cy="462.25" r="2.5" fill="#000" fill-opacity="0.15"/><circle cx="364.10" cy="461.15" r="2.4" fill="#eaa228"/><circle cx="398.56" cy="430.18" r="2.5" fill="#000" fill-opacity="0.15"/><circle cx="397.76" cy="429.08" r="2.4" fill="#eaa228"/><circle cx="432.23" cy="425.18" r="2.5" fill="#000" fill-opacity="0.15"/><circle cx="431.43" cy="424.08" r="2.4" fill="#eaa228"/><circle cx="465.89" cy="427.94" r="2.5" fill="#000" fill-opacity="0.15"/><circle cx="465.09" cy="426.84" r="2.4" fill="#eaa228"/><circle cx="499.55" cy="441.39" r="2.5" fill="#000" fill-opacity="0.15"/><circle cx="498.75" cy="440.29" r="2.4" fill="#eaa228"/><circle cx="533.21" cy="453.11" r="2.5" fill="#000" fill-opacity="0.15"/><circle cx="532.41" cy="452.01" r="2.4" fill="#eaa228"/><circle cx="566.88" cy="447.25" r="2.5" fill="#000" fill-opacity="0.15"/><circle cx="566.08" cy="446.15" r="2.4" fill="#eaa228"/><circle cx="600.54" cy="447.94" r="2.5" fill="#000" fill-opacity="0.15"/><circle cx="599.74" cy="446.84" r="2.4" fill="#eaa228"/><circle cx="634.20" cy="457.25" r="2.5" fill="#000" fill-opacity="0.15"/><circle cx="633.40" cy="456.15" r="2.4" fill="#eaa228"/><circle cx="667.86" cy="463.11" r="2.5" fill="#000" fill-opacity="0.15"/><circle cx="667.06" cy="462.01" r="2.4" fill="#eaa228"/><circle cx="701.52" cy="466.74" r="2.5" fill="#000" fill-opacity="0.15"/><circle cx="700.73" cy="465.64" r="2.4" fill="#eaa228"/><circle cx="735.19" cy="466.74" r="2.5" fill="#000" fill-opacity="0.15"/><circle cx="734.39" cy="465.64" r="2.4" fill="#eaa228"/><circle cx="768.85" cy="466.74" r="2.5" fill="#000" fill-opacity="0.15"/><circle cx="768.05" cy="465.64" r="2.4" fill="#eaa228"/><circle cx="802.51" cy="466.74" r="2.5" fill="#000" fill-opacity="0.15"/><circle cx="801.71" cy="465.64" r="2.4" fill="#eaa228"/><circle cx="836.18" cy="466.74" r="2.5" fill="#000" fill-opacity="0.15"/><circle cx="835.38" cy="465.64" r="2.4" fill="#eaa228"/><circle cx="869.84" cy="466.74" r="2.5" fill="#000" fill-opacity="0.15"/><circle cx="869.04" cy="465.64" r="2.4" fill="#eaa228"/><polyline points="94.80,465.64 128.46,465.64 162.12,465.64 195.79,465.64 229.45,465.64 263.11,465.64 296.78,465.64 330.44,465.64 364.10,465.64 397.76,451.84 431.43,413.91 465.09,410.80 498.75,413.22 532.41,442.19 566.08,449.08 599.74,444.94 633.40,434.43 667.06,430.98 700.73,441.84 734.39,453.91 768.05,465.46 801.71,465.64 835.38,465.64 869.04,465.64" fill="none" stroke="#000" stroke-opacity="0.12" stroke-width="1.6" transform="translate(0.9,1.4)"/><polyline points="94.80,465.64 128.46,465.64 162.12,465.64 195.79,465.64 229.45,465.64 263.11,465.64 296.78,465.64 330.44,465.64 364.10,465.64 397.76,451.84 431.43,413.91 465.09,410.80 498.75,413.22 532.41,442.19 566.08,449.08 599.74,444.94 633.40,434.43 667.06,430.98 700.73,441.84 734.39,453.91 768.05,465.46 801.71,465.64 835.38,465.64 869.04,465.64" fill="none" stroke="#000" stroke-opacity="0.08" stroke-width="1.6" transform="translate(1.6,2.2)"/><polyline points="94.80,465.64 128.46,465.64 162.12,465.64 195.79,465.64 229.45,465.64 263.11,465.64 296.78,465.64 330.44,465.64 364.10,465.64 397.76,451.84 431.43,413.91 465.09,410.80 498.75,413.22 532.41,442.19 566.08,449.08 599.74,444.94 633.40,434.43 667.06,430.98 700.73,441.84 734.39,453.91 768.05,465.46 801.71,465.64 835.38,465.64 869.04,465.64" fill="none" stroke="#c5b47f" stroke-width="1.5" stroke-linejoin="round"/><circle cx="95.60" cy="466.74" r="2.5" fill="#000" fill-opacity="0.15"/><circle cx="94.80" cy="465.64" r="2.4" fill="#c5b47f"/><circle cx="129.26" cy="466.74" r="2.5" fill="#000" fill-opacity="0.15"/><circle cx="128.46" cy="465.64" r="2.4" fill="#c5b47f"/><circle cx="162.93" cy="466.74" r="2.5" fill="#000" fill-opacity="0.15"/><circle cx="162.12" cy="465.64" r="2.4" fill="#c5b47f"/><circle cx="196.59" cy="466.74" r="2.5" fill="#000" fill-opacity="0.15"/><circle cx="195.79" cy="465.64" r="2.4" fill="#c5b47f"/><circle cx="230.25" cy="466.74" r="2.5" fill="#000" fill-opacity="0.15"/><circle cx="229.45" cy="465.64" r="2.4" fill="#c5b47f"/><circle cx="263.91" cy="466.74" r="2.5" fill="#000" fill-opacity="0.15"/><circle cx="263.11" cy="465.64" r="2.4" fill="#c5b47f"/><circle cx="297.58" cy="466.74" r="2.5" fill="#000" fill-opacity="0.15"/><circle cx="296.78" cy="465.64" r="2.4" fill="#c5b47f"/><circle cx="331.24" cy="466.74" r="2.5" fill="#000" fill-opacity="0.15"/><circle cx="330.44" cy="465.64" r="2.4" fill="#c5b47f"/><circle cx="364.90" cy="466.74" r="2.5" fill="#000" fill-opacity="0.15"/><circle cx="364.10" cy="465.64" r="2.4" fill="#c5b47f"/><circle cx="398.56" cy="452.94" r="2.5" fill="#000" fill-opacity="0.15"/><circle cx="397.76" cy="451.84" r="2.4" fill="#c5b47f"/><circle cx="432.23" cy="415.01" r="2.5" fill="#000" fill-opacity="0.15"/><circle cx="431.43" cy="413.91" r="2.4" fill="#c5b47f"/><circle cx="465.89" cy="411.90" r="2.5" fill="#000" fill-opacity="0.15"/><circle cx="465.09" cy="410.80" r="2.4" fill="#c5b47f"/><circle cx="499.55" cy="414.32" r="2.5" fill="#000" fill-opacity="0.15"/><circle cx="498.75" cy="413.22" r="2.4" fill="#c5b47f"/><circle cx="533.21" cy="443.29" r="2.5" fill="#000" fill-opacity="0.15"/><circle cx="532.41" cy="442.19" r="2.4" fill="#c5b47f"/><circle cx="566.88" cy="450.18" r="2.5" fill="#000" fill-opacity="0.15"/><circle cx="566.08" cy="449.08" r="2.4" fill="#c5b47f"/><circle cx="600.54" cy="446.04" r="2.5" fill="#000" fill-opacity="0.15"/><circle cx="599.74" cy="444.94" r="2.4" fill="#c5b47f"/><circle cx="634.20" cy="435.53" r="2.5" fill="#000" fill-opacity="0.15"/><circle cx="633.40" cy="434.43" r="2.4" fill="#c5b47f"/><circle cx="667.86" cy="432.08" r="2.5" fill="#000" fill-opacity="0.15"/><circle cx="667.06" cy="430.98" r="2.4" fill="#c5b47f"/><circle cx="701.52" cy="442.94" r="2.5" fill="#000" fill-opacity="0.15"/><circle cx="700.73" cy="441.84" r="2.4" fill="#c5b47f"/><circle cx="735.19" cy="455.01" r="2.5" fill="#000" fill-opacity="0.15"/><circle cx="734.39" cy="453.91" r="2.4" fill="#c5b47f"/><circle cx="768.85" cy="466.56" r="2.5" fill="#000" fill-opacity="0.15"/><circle cx="768.05" cy="465.46" r="2.4" fill="#c5b47f"/><circle cx="802.51" cy="466.74" r="2.5" fill="#000" fill-opacity="0.15"/><circle cx="801.71" cy="465.64" r="2.4" fill="#c5b47f"/><circle cx="836.18" cy="466.74" r="2.5" fill="#000" fill-opacity="0.15"/><circle cx="835.38" cy="465.64" r="2.4" fill="#c5b47f"/><circle cx="869.84" cy="466.74" r="2.5" fill="#000" fill-opacity="0.15"/><circle cx="869.04" cy="465.64" r="2.4" fill="#c5b47f"/><polyline points="94.80,465.64 128.46,465.64 162.12,465.64 195.79,465.64 229.45,465.64 263.11,465.64 296.78,465.64 330.44,465.64 364.10,465.64 397.76,456.67 431.43,425.98 465.09,428.22 498.75,433.56 532.41,457.01 566.08,455.81 599.74,432.70 633.40,427.53 667.06,434.08 700.73,434.08 734.39,458.91 768.05,465.64 801.71,465.64 835.38,465.64 869.04,465.64" fill="none" stroke="#000" stroke-opacity="0.12" stroke-width="1.6" transform="translate(0.9,1.4)"/><polyline points="94.80,465.64 128.46,465.64 162.12,465.64 195.79,465.64 229.45,465.64 263.11,465.64 296.78,465.64 330.44,465.64 364.10,465.64 397.76,456.67 431.43,425.98 465.09,428.22 498.75,433.56 532.41,457.01 566.08,455.81 599.74,432.70 633.40,427.53 667.06,434.08 700.73,434.08 734.39,458.91 768.05,465.64 801.71,465.64 835.38,465.64 869.04,465.64" fill="none" stroke="#000" stroke-opacity="0.08" stroke-width="1.6" transform="translate(1.6,2.2)"/><polyline points="94.80,465.64 128.46,465.64 162.12,465.64 195.79,465.64 229.45,465.64 263.11,465.64 296.78,465.64 330.44,465.64 364.10,465.64 397.76,456.67 431.43,425.98 465.09,428.22 498.75,433.56 532.41,457.01 566.08,455.81 599.74,432.70 633.40,427.53 667.06,434.08 700.73,434.08 734.39,458.91 768.05,465.64 801.71,465.64 835.38,465.64 869.04,465.64" fill="none" stroke="#46917f" stroke-width="1.5" stroke-linejoin="round"/><circle cx="95.60" cy="466.74" r="2.5" fill="#000" fill-opacity="0.15"/><circle cx="94.80" cy="465.64" r="2.4" fill="#46917f"/><circle cx="129.26" cy="466.74" r="2.5" fill="#000" fill-opacity="0.15"/><circle cx="128.46" cy="465.64" r="2.4" fill="#46917f"/><circle cx="162.93" cy="466.74" r="2.5" fill="#000" fill-opacity="0.15"/><circle cx="162.12" cy="465.64" r="2.4" fill="#46917f"/><circle cx="196.59" cy="466.74" r="2.5" fill="#000" fill-opacity="0.15"/><circle cx="195.79" cy="465.64" r="2.4" fill="#46917f"/><circle cx="230.25" cy="466.74" r="2.5" fill="#000" fill-opacity="0.15"/><circle cx="229.45" cy="465.64" r="2.4" fill="#46917f"/><circle cx="263.91" cy="466.74" r="2.5" fill="#000" fill-opacity="0.15"/><circle cx="263.11" cy="465.64" r="2.4" fill="#46917f"/><circle cx="297.58" cy="466.74" r="2.5" fill="#000" fill-opacity="0.15"/><circle cx="296.78" cy="465.64" r="2.4" fill="#46917f"/><circle cx="331.24" cy="466.74" r="2.5" fill="#000" fill-opacity="0.15"/><circle cx="330.44" cy="465.64" r="2.4" fill="#46917f"/><circle cx="364.90" cy="466.74" r="2.5" fill="#000" fill-opacity="0.15"/><circle cx="364.10" cy="465.64" r="2.4" fill="#46917f"/><circle cx="398.56" cy="457.77" r="2.5" fill="#000" fill-opacity="0.15"/><circle cx="397.76" cy="456.67" r="2.4" fill="#46917f"/><circle cx="432.23" cy="427.08" r="2.5" fill="#000" fill-opacity="0.15"/><circle cx="431.43" cy="425.98" r="2.4" fill="#46917f"/><circle cx="465.89" cy="429.32" r="2.5" fill="#000" fill-opacity="0.15"/><circle cx="465.09" cy="428.22" r="2.4" fill="#46917f"/><circle cx="499.55" cy="434.66" r="2.5" fill="#000" fill-opacity="0.15"/><circle cx="498.75" cy="433.56" r="2.4" fill="#46917f"/><circle cx="533.21" cy="458.11" r="2.5" fill="#000" fill-opacity="0.15"/><circle cx="532.41" cy="457.01" r="2.4" fill="#46917f"/><circle cx="566.88" cy="456.91" r="2.5" fill="#000" fill-opacity="0.15"/><circle cx="566.08" cy="455.81" r="2.4" fill="#46917f"/><circle cx="600.54" cy="433.80" r="2.5" fill="#000" fill-opacity="0.15"/><circle cx="599.74" cy="432.70" r="2.4" fill="#46917f"/><circle cx="634.20" cy="428.63" r="2.5" fill="#000" fill-opacity="0.15"/><circle cx="633.40" cy="427.53" r="2.4" fill="#46917f"/><circle cx="667.86" cy="435.18" r="2.5" fill="#000" fill-opacity="0.15"/><circle cx="667.06" cy="434.08" r="2.4" fill="#46917f"/><circle cx="701.52" cy="435.18" r="2.5" fill="#000" fill-opacity="0.15"/><circle cx="700.73" cy="434.08" r="2.4" fill="#46917f"/><circle cx="735.19" cy="460.01" r="2.5" fill="#000" fill-opacity="0.15"/><circle cx="734.39" cy="458.91" r="2.4" fill="#46917f"/><circle cx="768.85" cy="466.74" r="2.5" fill="#000" fill-opacity="0.15"/><circle cx="768.05" cy="465.64" r="2.4" fill="#46917f"/><circle cx="802.51" cy="466.74" r="2.5" fill="#000" fill-opacity="0.15"/><circle cx="801.71" cy="465.64" r="2.4" fill="#46917f"/><circle cx="836.18" cy="466.74" r="2.5" fill="#000" fill-opacity="0.15"/><circle cx="835.38" cy="465.64" r="2.4" fill="#46917f"/><circle cx="869.84" cy="466.74" r="2.5" fill="#000" fill-opacity="0.15"/><circle cx="869.04" cy="465.64" r="2.4" fill="#46917f"/><polyline points="94.80,465.64 128.46,465.64 162.12,465.64 195.79,465.64 229.45,465.64 263.11,465.64 296.78,465.64 330.44,465.64 364.10,461.15 397.76,429.08 431.43,424.08 465.09,426.84 498.75,440.29 532.41,452.01 566.08,446.15 599.74,446.84 633.40,456.15 667.06,462.01 700.73,465.64 734.39,465.64 768.05,465.64 801.71,465.64 835.38,465.64 869.04,465.64" fill="none" stroke="#000" stroke-opacity="0.12" stroke-width="1.6" transform="translate(0.9,1.4)"/><polyline points="94.80,465.64 128.46,465.64 162.12,465.64 195.79,465.64 229.45,465.64 263.11,465.64 296.78,465.64 330.44,465.64 364.10,461.15 397.76,429.08 431.43,424.08 465.09,426.84 498.75,440.29 532.41,452.01 566.08,446.15 599.74,446.84 633.40,456.15 667.06,462.01 700.73,465.64 734.39,465.64 768.05,465.64 801.71,465.64 835.38,465.64 869.04,465.64" fill="none" stroke="#000" stroke-opacity="0.08" stroke-width="1.6" transform="translate(1.6,2.2)"/><polyline points="94.80,465.64 128.46,465.64 162.12,465.64 195.79,465.64 229.45,465.64 263.11,465.64 296.78,465.64 330.44,465.64 364.10,461.15 397.76,429.08 431.43,424.08 465.09,426.84 498.75,440.29 532.41,452.01 566.08,446.15 599.74,446.84 633.40,456.15 667.06,462.01 700.73,465.64 734.39,465.64 768.05,465.64 801.71,465.64 835.38,465.64 869.04,465.64" fill="none" stroke="#7f8f4c" stroke-width="1.5" stroke-linejoin="round"/><circle cx="95.60" cy="466.74" r="2.5" fill="#000" fill-opacity="0.15"/><circle cx="94.80" cy="465.64" r="2.4" fill="#7f8f4c"/><circle cx="129.26" cy="466.74" r="2.5" fill="#000" fill-opacity="0.15"/><circle cx="128.46" cy="465.64" r="2.4" fill="#7f8f4c"/><circle cx="162.93" cy="466.74" r="2.5" fill="#000" fill-opacity="0.15"/><circle cx="162.12" cy="465.64" r="2.4" fill="#7f8f4c"/><circle cx="196.59" cy="466.74" r="2.5" fill="#000" fill-opacity="0.15"/><circle cx="195.79" cy="465.64" r="2.4" fill="#7f8f4c"/><circle cx="230.25" cy="466.74" r="2.5" fill="#000" fill-opacity="0.15"/><circle cx="229.45" cy="465.64" r="2.4" fill="#7f8f4c"/><circle cx="263.91" cy="466.74" r="2.5" fill="#000" fill-opacity="0.15"/><circle cx="263.11" cy="465.64" r="2.4" fill="#7f8f4c"/><circle cx="297.58" cy="466.74" r="2.5" fill="#000" fill-opacity="0.15"/><circle cx="296.78" cy="465.64" r="2.4" fill="#7f8f4c"/><circle cx="331.24" cy="466.74" r="2.5" fill="#000" fill-opacity="0.15"/><circle cx="330.44" cy="465.64" r="2.4" fill="#7f8f4c"/><circle cx="364.90" cy="462.25" r="2.5" fill="#000" fill-opacity="0.15"/><circle cx="364.10" cy="461.15" r="2.4" fill="#7f8f4c"/><circle cx="398.56" cy="430.18" r="2.5" fill="#000" fill-opacity="0.15"/><circle cx="397.76" cy="429.08" r="2.4" fill="#7f8f4c"/><circle cx="432.23" cy="425.18" r="2.5" fill="#000" fill-opacity="0.15"/><circle cx="431.43" cy="424.08" r="2.4" fill="#7f8f4c"/><circle cx="465.89" cy="427.94" r="2.5" fill="#000" fill-opacity="0.15"/><circle cx="465.09" cy="426.84" r="2.4" fill="#7f8f4c"/><circle cx="499.55" cy="441.39" r="2.5" fill="#000" fill-opacity="0.15"/><circle cx="498.75" cy="440.29" r="2.4" fill="#7f8f4c"/><circle cx="533.21" cy="453.11" r="2.5" fill="#000" fill-opacity="0.15"/><circle cx="532.41" cy="452.01" r="2.4" fill="#7f8f4c"/><circle cx="566.88" cy="447.25" r="2.5" fill="#000" fill-opacity="0.15"/><circle cx="566.08" cy="446.15" r="2.4" fill="#7f8f4c"/><circle cx="600.54" cy="447.94" r="2.5" fill="#000" fill-opacity="0.15"/><circle cx="599.74" cy="446.84" r="2.4" fill="#7f8f4c"/><circle cx="634.20" cy="457.25" r="2.5" fill="#000" fill-opacity="0.15"/><circle cx="633.40" cy="456.15" r="2.4" fill="#7f8f4c"/><circle cx="667.86" cy="463.11" r="2.5" fill="#000" fill-opacity="0.15"/><circle cx="667.06" cy="462.01" r="2.4" fill="#7f8f4c"/><circle cx="701.52" cy="466.74" r="2.5" fill="#000" fill-opacity="0.15"/><circle cx="700.73" cy="465.64" r="2.4" fill="#7f8f4c"/><circle cx="735.19" cy="466.74" r="2.5" fill="#000" fill-opacity="0.15"/><circle cx="734.39" cy="465.64" r="2.4" fill="#7f8f4c"/><circle cx="768.85" cy="466.74" r="2.5" fill="#000" fill-opacity="0.15"/><circle cx="768.05" cy="465.64" r="2.4" fill="#7f8f4c"/><circle cx="802.51" cy="466.74" r="2.5" fill="#000" fill-opacity="0.15"/><circle cx="801.71" cy="465.64" r="2.4" fill="#7f8f4c"/><circle cx="836.18" cy="466.74" r="2.5" fill="#000" fill-opacity="0.15"/><circle cx="835.38" cy="465.64" r="2.4" fill="#7f8f4c"/><circle cx="869.84" cy="466.74" r="2.5" fill="#000" fill-opacity="0.15"/><circle cx="869.04" cy="465.64" r="2.4" fill="#7f8f4c"/><polyline points="94.80,465.64 128.46,465.64 162.12,465.64 195.79,465.64 229.45,465.64 263.11,465.64 296.78,465.64 330.44,465.64 364.10,465.64 397.76,451.84 431.43,413.91 465.09,410.80 498.75,413.22 532.41,442.19 566.08,449.08 599.74,444.94 633.40,434.43 667.06,430.98 700.73,441.84 734.39,453.91 768.05,465.46 801.71,465.64 835.38,465.64 869.04,465.64" fill="none" stroke="#000" stroke-opacity="0.12" stroke-width="1.6" transform="translate(0.9,1.4)"/><polyline points="94.80,465.64 128.46,465.64 162.12,465.64 195.79,465.64 229.45,465.64 263.11,465.64 296.78,465.64 330.44,465.64 364.10,465.64 397.76,451.84 431.43,413.91 465.09,410.80 498.75,413.22 532.41,442.19 566.08,449.08 599.74,444.94 633.40,434.43 667.06,430.98 700.73,441.84 734.39,453.91 768.05,465.46 801.71,465.64 835.38,465.64 869.04,465.64" fill="none" stroke="#000" stroke-opacity="0.08" stroke-width="1.6" transform="translate(1.6,2.2)"/><polyline points="94.80,465.64 128.46,465.64 162.12,465.64 195.79,465.64 229.45,465.64 263.11,465.64 296.78,465.64 330.44,465.64 364.10,465.64 397.76,451.84 431.43,413.91 465.09,410.80 498.75,413.22 532.41,442.19 566.08,449.08 599.74,444.94 633.40,434.43 667.06,430.98 700.73,441.84 734.39,453.91 768.05,465.46 801.71,465.64 835.38,465.64 869.04,465.64" fill="none" stroke="#9a9116" stroke-width="1.5" stroke-linejoin="round"/><circle cx="95.60" cy="466.74" r="2.5" fill="#000" fill-opacity="0.15"/><circle cx="94.80" cy="465.64" r="2.4" fill="#9a9116"/><circle cx="129.26" cy="466.74" r="2.5" fill="#000" fill-opacity="0.15"/><circle cx="128.46" cy="465.64" r="2.4" fill="#9a9116"/><circle cx="162.93" cy="466.74" r="2.5" fill="#000" fill-opacity="0.15"/><circle cx="162.12" cy="465.64" r="2.4" fill="#9a9116"/><circle cx="196.59" cy="466.74" r="2.5" fill="#000" fill-opacity="0.15"/><circle cx="195.79" cy="465.64" r="2.4" fill="#9a9116"/><circle cx="230.25" cy="466.74" r="2.5" fill="#000" fill-opacity="0.15"/><circle cx="229.45" cy="465.64" r="2.4" fill="#9a9116"/><circle cx="263.91" cy="466.74" r="2.5" fill="#000" fill-opacity="0.15"/><circle cx="263.11" cy="465.64" r="2.4" fill="#9a9116"/><circle cx="297.58" cy="466.74" r="2.5" fill="#000" fill-opacity="0.15"/><circle cx="296.78" cy="465.64" r="2.4" fill="#9a9116"/><circle cx="331.24" cy="466.74" r="2.5" fill="#000" fill-opacity="0.15"/><circle cx="330.44" cy="465.64" r="2.4" fill="#9a9116"/><circle cx="364.90" cy="466.74" r="2.5" fill="#000" fill-opacity="0.15"/><circle cx="364.10" cy="465.64" r="2.4" fill="#9a9116"/><circle cx="398.56" cy="452.94" r="2.5" fill="#000" fill-opacity="0.15"/><circle cx="397.76" cy="451.84" r="2.4" fill="#9a9116"/><circle cx="432.23" cy="415.01" r="2.5" fill="#000" fill-opacity="0.15"/><circle cx="431.43" cy="413.91" r="2.4" fill="#9a9116"/><circle cx="465.89" cy="411.90" r="2.5" fill="#000" fill-opacity="0.15"/><circle cx="465.09" cy="410.80" r="2.4" fill="#9a9116"/><circle cx="499.55" cy="414.32" r="2.5" fill="#000" fill-opacity="0.15"/><circle cx="498.75" cy="413.22" r="2.4" fill="#9a9116"/><circle cx="533.21" cy="443.29" r="2.5" fill="#000" fill-opacity="0.15"/><circle cx="532.41" cy="442.19" r="2.4" fill="#9a9116"/><circle cx="566.88" cy="450.18" r="2.5" fill="#000" fill-opacity="0.15"/><circle cx="566.08" cy="449.08" r="2.4" fill="#9a9116"/><circle cx="600.54" cy="446.04" r="2.5" fill="#000" fill-opacity="0.15"/><circle cx="599.74" cy="444.94" r="2.4" fill="#9a9116"/><circle cx="634.20" cy="435.53" r="2.5" fill="#000" fill-opacity="0.15"/><circle cx="633.40" cy="434.43" r="2.4" fill="#9a9116"/><circle cx="667.86" cy="432.08" r="2.5" fill="#000" fill-opacity="0.15"/><circle cx="667.06" cy="430.98" r="2.4" fill="#9a9116"/><circle cx="701.52" cy="442.94" r="2.5" fill="#000" fill-opacity="0.15"/><circle cx="700.73" cy="441.84" r="2.4" fill="#9a9116"/><circle cx="735.19" cy="455.01" r="2.5" fill="#000" fill-opacity="0.15"/><circle cx="734.39" cy="453.91" r="2.4" fill="#9a9116"/><circle cx="768.85" cy="466.56" r="2.5" fill="#000" fill-opacity="0.15"/><circle cx="768.05" cy="465.46" r="2.4" fill="#9a9116"/><circle cx="802.51" cy="466.74" r="2.5" fill="#000" fill-opacity="0.15"/><circle cx="801.71" cy="465.64" r="2.4" fill="#9a9116"/><circle cx="836.18" cy="466.74" r="2.5" fill="#000" fill-opacity="0.15"/><circle cx="835.38" cy="465.64" r="2.4" fill="#9a9116"/><circle cx="869.84" cy="466.74" r="2.5" fill="#000" fill-opacity="0.15"/><circle cx="869.04" cy="465.64" r="2.4" fill="#9a9116"/><polyline points="94.80,465.64 128.46,465.64 162.12,465.64 195.79,465.64 229.45,465.64 263.11,465.64 296.78,465.64 330.44,465.64 364.10,464.77 397.76,424.08 431.43,382.35 465.09,371.14 498.75,400.63 532.41,441.67 566.08,413.39 599.74,391.49 633.40,399.25 667.06,436.15 700.73,462.53 734.39,464.08 768.05,465.64 801.71,465.64 835.38,465.64 869.04,465.64" fill="none" stroke="#000" stroke-opacity="0.12" stroke-width="1.6" transform="translate(0.9,1.4)"/><polyline points="94.80,465.64 128.46,465.64 162.12,465.64 195.79,465.64 229.45,465.64 263.11,465.64 296.78,465.64 330.44,465.64 364.10,464.77 397.76,424.08 431.43,382.35 465.09,371.14 498.75,400.63 532.41,441.67 566.08,413.39 599.74,391.49 633.40,399.25 667.06,436.15 700.73,462.53 734.39,464.08 768.05,465.64 801.71,465.64 835.38,465.64 869.04,465.64" fill="none" stroke="#000" stroke-opacity="0.08" stroke-width="1.6" transform="translate(1.6,2.2)"/><polyline points="94.80,465.64 128.46,465.64 162.12,465.64 195.79,465.64 229.45,465.64 263.11,465.64 296.78,465.64 330.44,465.64 364.10,464.77 397.76,424.08 431.43,382.35 465.09,371.14 498.75,400.63 532.41,441.67 566.08,413.39 599.74,391.49 633.40,399.25 667.06,436.15 700.73,462.53 734.39,464.08 768.05,465.64 801.71,465.64 835.38,465.64 869.04,465.64" fill="none" stroke="#953579" stroke-width="1.5" stroke-linejoin="round"/><circle cx="95.60" cy="466.74" r="2.5" fill="#000" fill-opacity="0.15"/><circle cx="94.80" cy="465.64" r="2.4" fill="#953579"/><circle cx="129.26" cy="466.74" r="2.5" fill="#000" fill-opacity="0.15"/><circle cx="128.46" cy="465.64" r="2.4" fill="#953579"/><circle cx="162.93" cy="466.74" r="2.5" fill="#000" fill-opacity="0.15"/><circle cx="162.12" cy="465.64" r="2.4" fill="#953579"/><circle cx="196.59" cy="466.74" r="2.5" fill="#000" fill-opacity="0.15"/><circle cx="195.79" cy="465.64" r="2.4" fill="#953579"/><circle cx="230.25" cy="466.74" r="2.5" fill="#000" fill-opacity="0.15"/><circle cx="229.45" cy="465.64" r="2.4" fill="#953579"/><circle cx="263.91" cy="466.74" r="2.5" fill="#000" fill-opacity="0.15"/><circle cx="263.11" cy="465.64" r="2.4" fill="#953579"/><circle cx="297.58" cy="466.74" r="2.5" fill="#000" fill-opacity="0.15"/><circle cx="296.78" cy="465.64" r="2.4" fill="#953579"/><circle cx="331.24" cy="466.74" r="2.5" fill="#000" fill-opacity="0.15"/><circle cx="330.44" cy="465.64" r="2.4" fill="#953579"/><circle cx="364.90" cy="465.87" r="2.5" fill="#000" fill-opacity="0.15"/><circle cx="364.10" cy="464.77" r="2.4" fill="#953579"/><circle cx="398.56" cy="425.18" r="2.5" fill="#000" fill-opacity="0.15"/><circle cx="397.76" cy="424.08" r="2.4" fill="#953579"/><circle cx="432.23" cy="383.45" r="2.5" fill="#000" fill-opacity="0.15"/><circle cx="431.43" cy="382.35" r="2.4" fill="#953579"/><circle cx="465.89" cy="372.24" r="2.5" fill="#000" fill-opacity="0.15"/><circle cx="465.09" cy="371.14" r="2.4" fill="#953579"/><circle cx="499.55" cy="401.73" r="2.5" fill="#000" fill-opacity="0.15"/><circle cx="498.75" cy="400.63" r="2.4" fill="#953579"/><circle cx="533.21" cy="442.77" r="2.5" fill="#000" fill-opacity="0.15"/><circle cx="532.41" cy="441.67" r="2.4" fill="#953579"/><circle cx="566.88" cy="414.49" r="2.5" fill="#000" fill-opacity="0.15"/><circle cx="566.08" cy="413.39" r="2.4" fill="#953579"/><circle cx="600.54" cy="392.59" r="2.5" fill="#000" fill-opacity="0.15"/><circle cx="599.74" cy="391.49" r="2.4" fill="#953579"/><circle cx="634.20" cy="400.35" r="2.5" fill="#000" fill-opacity="0.15"/><circle cx="633.40" cy="399.25" r="2.4" fill="#953579"/><circle cx="667.86" cy="437.25" r="2.5" fill="#000" fill-opacity="0.15"/><circle cx="667.06" cy="436.15" r="2.4" fill="#953579"/><circle cx="701.52" cy="463.63" r="2.5" fill="#000" fill-opacity="0.15"/><circle cx="700.73" cy="462.53" r="2.4" fill="#953579"/><circle cx="735.19" cy="465.18" r="2.5" fill="#000" fill-opacity="0.15"/><circle cx="734.39" cy="464.08" r="2.4" fill="#953579"/><circle cx="768.85" cy="466.74" r="2.5" fill="#000" fill-opacity="0.15"/><circle cx="768.05" cy="465.64" r="2.4" fill="#953579"/><circle cx="802.51" cy="466.74" r="2.5" fill="#000" fill-opacity="0.15"/><circle cx="801.71" cy="465.64" r="2.4" fill="#953579"/><circle cx="836.18" cy="466.74" r="2.5" fill="#000" fill-opacity="0.15"/><circle cx="835.38" cy="465.64" r="2.4" fill="#953579"/><circle cx="869.84" cy="466.74" r="2.5" fill="#000" fill-opacity="0.15"/><circle cx="869.04" cy="465.64" r="2.4" fill="#953579"/><polyline points="94.80,465.64 128.46,465.64 162.12,465.64 195.79,465.64 229.45,465.64 263.11,465.64 296.78,465.64 330.44,465.64 364.10,465.64 397.76,421.67 431.43,387.18 465.09,384.08 498.75,398.73 532.41,411.15 566.08,422.01 599.74,422.53 633.40,434.43 667.06,463.39 700.73,465.64 734.39,465.46 768.05,465.64 801.71,465.64 835.38,465.64 869.04,465.64" fill="none" stroke="#000" stroke-opacity="0.12" stroke-width="1.6" transform="translate(0.9,1.4)"/><polyline points="94.80,465.64 128.46,465.64 162.12,465.64 195.79,465.64 229.45,465.64 263.11,465.64 296.78,465.64 330.44,465.64 364.10,465.64 397.76,421.67 431.43,387.18 465.09,384.08 498.75,398.73 532.41,411.15 566.08,422.01 599.74,422.53 633.40,434.43 667.06,463.39 700.73,465.64 734.39,465.46 768.05,465.64 801.71,465.64 835.38,465.64 869.04,465.64" fill="none" stroke="#000" stroke-opacity="0.08" stroke-width="1.6" transform="translate(1.6,2.2)"/><polyline points="94.80,465.64 128.46,465.64 162.12,465.64 195.79,465.64 229.45,465.64 263.11,465.64 296.78,465.64 330.44,465.64 364.10,465.64 397.76,421.67 431.43,387.18 465.09,384.08 498.75,398.73 532.41,411.15 566.08,422.01 599.74,422.53 633.40,434.43 667.06,463.39 700.73,465.64 734.39,465.46 768.05,465.64 801.71,465.64 835.38,465.64 869.04,465.64" fill="none" stroke="#4b5de4" stroke-width="1.5" stroke-linejoin="round"/><circle cx="95.60" cy="466.74" r="2.5" fill="#000" fill-opacity="0.15"/><circle cx="94.80" cy="465.64" r="2.4" fill="#4b5de4"/><circle cx="129.26" cy="466.74" r="2.5" fill="#000" fill-opacity="0.15"/><circle cx="128.46" cy="465.64" r="2.4" fill="#4b5de4"/><circle cx="162.93" cy="466.74" r="2.5" fill="#000" fill-opacity="0.15"/><circle cx="162.12" cy="465.64" r="2.4" fill="#4b5de4"/><circle cx="196.59" cy="466.74" r="2.5" fill="#000" fill-opacity="0.15"/><circle cx="195.79" cy="465.64" r="2.4" fill="#4b5de4"/><circle cx="230.25" cy="466.74" r="2.5" fill="#000" fill-opacity="0.15"/><circle cx="229.45" cy="465.64" r="2.4" fill="#4b5de4"/><circle cx="263.91" cy="466.74" r="2.5" fill="#000" fill-opacity="0.15"/><circle cx="263.11" cy="465.64" r="2.4" fill="#4b5de4"/><circle cx="297.58" cy="466.74" r="2.5" fill="#000" fill-opacity="0.15"/><circle cx="296.78" cy="465.64" r="2.4" fill="#4b5de4"/><circle cx="331.24" cy="466.74" r="2.5" fill="#000" fill-opacity="0.15"/><circle cx="330.44" cy="465.64" r="2.4" fill="#4b5de4"/><circle cx="364.90" cy="466.74" r="2.5" fill="#000" fill-opacity="0.15"/><circle cx="364.10" cy="465.64" r="2.4" fill="#4b5de4"/><circle cx="398.56" cy="422.77" r="2.5" fill="#000" fill-opacity="0.15"/><circle cx="397.76" cy="421.67" r="2.4" fill="#4b5de4"/><circle cx="432.23" cy="388.28" r="2.5" fill="#000" fill-opacity="0.15"/><circle cx="431.43" cy="387.18" r="2.4" fill="#4b5de4"/><circle cx="465.89" cy="385.18" r="2.5" fill="#000" fill-opacity="0.15"/><circle cx="465.09" cy="384.08" r="2.4" fill="#4b5de4"/><circle cx="499.55" cy="399.83" r="2.5" fill="#000" fill-opacity="0.15"/><circle cx="498.75" cy="398.73" r="2.4" fill="#4b5de4"/><circle cx="533.21" cy="412.25" r="2.5" fill="#000" fill-opacity="0.15"/><circle cx="532.41" cy="411.15" r="2.4" fill="#4b5de4"/><circle cx="566.88" cy="423.11" r="2.5" fill="#000" fill-opacity="0.15"/><circle cx="566.08" cy="422.01" r="2.4" fill="#4b5de4"/><circle cx="600.54" cy="423.63" r="2.5" fill="#000" fill-opacity="0.15"/><circle cx="599.74" cy="422.53" r="2.4" fill="#4b5de4"/><circle cx="634.20" cy="435.53" r="2.5" fill="#000" fill-opacity="0.15"/><circle cx="633.40" cy="434.43" r="2.4" fill="#4b5de4"/><circle cx="667.86" cy="464.49" r="2.5" fill="#000" fill-opacity="0.15"/><circle cx="667.06" cy="463.39" r="2.4" fill="#4b5de4"/><circle cx="701.52" cy="466.74" r="2.5" fill="#000" fill-opacity="0.15"/><circle cx="700.73" cy="465.64" r="2.4" fill="#4b5de4"/><circle cx="735.19" cy="466.56" r="2.5" fill="#000" fill-opacity="0.15"/><circle cx="734.39" cy="465.46" r="2.4" fill="#4b5de4"/><circle cx="768.85" cy="466.74" r="2.5" fill="#000" fill-opacity="0.15"/><circle cx="768.05" cy="465.64" r="2.4" fill="#4b5de4"/><circle cx="802.51" cy="466.74" r="2.5" fill="#000" fill-opacity="0.15"/><circle cx="801.71" cy="465.64" r="2.4" fill="#4b5de4"/><circle cx="836.18" cy="466.74" r="2.5" fill="#000" fill-opacity="0.15"/><circle cx="835.38" cy="465.64" r="2.4" fill="#4b5de4"/><circle cx="869.84" cy="466.74" r="2.5" fill="#000" fill-opacity="0.15"/><circle cx="869.04" cy="465.64" r="2.4" fill="#4b5de4"/><polyline points="94.80,465.64 128.46,465.64 162.12,465.64 195.79,465.64 229.45,465.64 263.11,465.64 296.78,465.64 330.44,465.64 364.10,465.64 397.76,421.67 431.43,387.18 465.09,384.08 498.75,398.73 532.41,411.15 566.08,422.01 599.74,422.53 633.40,434.43 667.06,463.39 700.73,465.64 734.39,465.46 768.05,465.64 801.71,465.64 835.38,465.64 869.04,465.64" fill="none" stroke="#000" stroke-opacity="0.12" stroke-width="1.6" transform="translate(0.9,1.4)"/><polyline points="94.80,465.64 128.46,465.64 162.12,465.64 195.79,465.64 229.45,465.64 263.11,465.64 296.78,465.64 330.44,465.64 364.10,465.64 397.76,421.67 431.43,387.18 465.09,384.08 498.75,398.73 532.41,411.15 566.08,422.01 599.74,422.53 633.40,434.43 667.06,463.39 700.73,465.64 734.39,465.46 768.05,465.64 801.71,465.64 835.38,465.64 869.04,465.64" fill="none" stroke="#000" stroke-opacity="0.08" stroke-width="1.6" transform="translate(1.6,2.2)"/><polyline points="94.80,465.64 128.46,465.64 162.12,465.64 195.79,465.64 229.45,465.64 263.11,465.64 296.78,465.64 330.44,465.64 364.10,465.64 397.76,421.67 431.43,387.18 465.09,384.08 498.75,398.73 532.41,411.15 566.08,422.01 599.74,422.53 633.40,434.43 667.06,463.39 700.73,465.64 734.39,465.46 768.05,465.64 801.71,465.64 835.38,465.64 869.04,465.64" fill="none" stroke="#d4a933" stroke-width="1.5" stroke-linejoin="round"/><circle cx="95.60" cy="466.74" r="2.5" fill="#000" fill-opacity="0.15"/><circle cx="94.80" cy="465.64" r="2.4" fill="#d4a933"/><circle cx="129.26" cy="466.74" r="2.5" fill="#000" fill-opacity="0.15"/><circle cx="128.46" cy="465.64" r="2.4" fill="#d4a933"/><circle cx="162.93" cy="466.74" r="2.5" fill="#000" fill-opacity="0.15"/><circle cx="162.12" cy="465.64" r="2.4" fill="#d4a933"/><circle cx="196.59" cy="466.74" r="2.5" fill="#000" fill-opacity="0.15"/><circle cx="195.79" cy="465.64" r="2.4" fill="#d4a933"/><circle cx="230.25" cy="466.74" r="2.5" fill="#000" fill-opacity="0.15"/><circle cx="229.45" cy="465.64" r="2.4" fill="#d4a933"/><circle cx="263.91" cy="466.74" r="2.5" fill="#000" fill-opacity="0.15"/><circle cx="263.11" cy="465.64" r="2.4" fill="#d4a933"/><circle cx="297.58" cy="466.74" r="2.5" fill="#000" fill-opacity="0.15"/><circle cx="296.78" cy="465.64" r="2.4" fill="#d4a933"/><circle cx="331.24" cy="466.74" r="2.5" fill="#000" fill-opacity="0.15"/><circle cx="330.44" cy="465.64" r="2.4" fill="#d4a933"/><circle cx="364.90" cy="466.74" r="2.5" fill="#000" fill-opacity="0.15"/><circle cx="364.10" cy="465.64" r="2.4" fill="#d4a933"/><circle cx="398.56" cy="422.77" r="2.5" fill="#000" fill-opacity="0.15"/><circle cx="397.76" cy="421.67" r="2.4" fill="#d4a933"/><circle cx="432.23" cy="388.28" r="2.5" fill="#000" fill-opacity="0.15"/><circle cx="431.43" cy="387.18" r="2.4" fill="#d4a933"/><circle cx="465.89" cy="385.18" r="2.5" fill="#000" fill-opacity="0.15"/><circle cx="465.09" cy="384.08" r="2.4" fill="#d4a933"/><circle cx="499.55" cy="399.83" r="2.5" fill="#000" fill-opacity="0.15"/><circle cx="498.75" cy="398.73" r="2.4" fill="#d4a933"/><circle cx="533.21" cy="412.25" r="2.5" fill="#000" fill-opacity="0.15"/><circle cx="532.41" cy="411.15" r="2.4" fill="#d4a933"/><circle cx="566.88" cy="423.11" r="2.5" fill="#000" fill-opacity="0.15"/><circle cx="566.08" cy="422.01" r="2.4" fill="#d4a933"/><circle cx="600.54" cy="423.63" r="2.5" fill="#000" fill-opacity="0.15"/><circle cx="599.74" cy="422.53" r="2.4" fill="#d4a933"/><circle cx="634.20" cy="435.53" r="2.5" fill="#000" fill-opacity="0.15"/><circle cx="633.40" cy="434.43" r="2.4" fill="#d4a933"/><circle cx="667.86" cy="464.49" r="2.5" fill="#000" fill-opacity="0.15"/><circle cx="667.06" cy="463.39" r="2.4" fill="#d4a933"/><circle cx="701.52" cy="466.74" r="2.5" fill="#000" fill-opacity="0.15"/><circle cx="700.73" cy="465.64" r="2.4" fill="#d4a933"/><circle cx="735.19" cy="466.56" r="2.5" fill="#000" fill-opacity="0.15"/><circle cx="734.39" cy="465.46" r="2.4" fill="#d4a933"/><circle cx="768.85" cy="466.74" r="2.5" fill="#000" fill-opacity="0.15"/><circle cx="768.05" cy="465.64" r="2.4" fill="#d4a933"/><circle cx="802.51" cy="466.74" r="2.5" fill="#000" fill-opacity="0.15"/><circle cx="801.71" cy="465.64" r="2.4" fill="#d4a933"/><circle cx="836.18" cy="466.74" r="2.5" fill="#000" fill-opacity="0.15"/><circle cx="835.38" cy="465.64" r="2.4" fill="#d4a933"/><circle cx="869.84" cy="466.74" r="2.5" fill="#000" fill-opacity="0.15"/><circle cx="869.04" cy="465.64" r="2.4" fill="#d4a933"/><polyline points="94.80,465.64 128.46,465.64 162.12,465.64 195.79,465.64 229.45,465.64 263.11,465.64 296.78,465.64 330.44,465.64 364.10,464.77 397.76,424.08 431.43,382.35 465.09,371.14 498.75,400.63 532.41,441.67 566.08,413.39 599.74,391.49 633.40,399.25 667.06,436.15 700.73,462.53 734.39,464.08 768.05,465.64 801.71,465.64 835.38,465.64 869.04,465.64" fill="none" stroke="#000" stroke-opacity="0.12" stroke-width="1.6" transform="translate(0.9,1.4)"/><polyline points="94.80,465.64 128.46,465.64 162.12,465.64 195.79,465.64 229.45,465.64 263.11,465.64 296.78,465.64 330.44,465.64 364.10,464.77 397.76,424.08 431.43,382.35 465.09,371.14 498.75,400.63 532.41,441.67 566.08,413.39 599.74,391.49 633.40,399.25 667.06,436.15 700.73,462.53 734.39,464.08 768.05,465.64 801.71,465.64 835.38,465.64 869.04,465.64" fill="none" stroke="#000" stroke-opacity="0.08" stroke-width="1.6" transform="translate(1.6,2.2)"/><polyline points="94.80,465.64 128.46,465.64 162.12,465.64 195.79,465.64 229.45,465.64 263.11,465.64 296.78,465.64 330.44,465.64 364.10,464.77 397.76,424.08 431.43,382.35 465.09,371.14 498.75,400.63 532.41,441.67 566.08,413.39 599.74,391.49 633.40,399.25 667.06,436.15 700.73,462.53 734.39,464.08 768.05,465.64 801.71,465.64 835.38,465.64 869.04,465.64" fill="none" stroke="#ec5218" stroke-width="1.5" stroke-linejoin="round"/><circle cx="95.60" cy="466.74" r="2.5" fill="#000" fill-opacity="0.15"/><circle cx="94.80" cy="465.64" r="2.4" fill="#ec5218"/><circle cx="129.26" cy="466.74" r="2.5" fill="#000" fill-opacity="0.15"/><circle cx="128.46" cy="465.64" r="2.4" fill="#ec5218"/><circle cx="162.93" cy="466.74" r="2.5" fill="#000" fill-opacity="0.15"/><circle cx="162.12" cy="465.64" r="2.4" fill="#ec5218"/><circle cx="196.59" cy="466.74" r="2.5" fill="#000" fill-opacity="0.15"/><circle cx="195.79" cy="465.64" r="2.4" fill="#ec5218"/><circle cx="230.25" cy="466.74" r="2.5" fill="#000" fill-opacity="0.15"/><circle cx="229.45" cy="465.64" r="2.4" fill="#ec5218"/><circle cx="263.91" cy="466.74" r="2.5" fill="#000" fill-opacity="0.15"/><circle cx="263.11" cy="465.64" r="2.4" fill="#ec5218"/><circle cx="297.58" cy="466.74" r="2.5" fill="#000" fill-opacity="0.15"/><circle cx="296.78" cy="465.64" r="2.4" fill="#ec5218"/><circle cx="331.24" cy="466.74" r="2.5" fill="#000" fill-opacity="0.15"/><circle cx="330.44" cy="465.64" r="2.4" fill="#ec5218"/><circle cx="364.90" cy="465.87" r="2.5" fill="#000" fill-opacity="0.15"/><circle cx="364.10" cy="464.77" r="2.4" fill="#ec5218"/><circle cx="398.56" cy="425.18" r="2.5" fill="#000" fill-opacity="0.15"/><circle cx="397.76" cy="424.08" r="2.4" fill="#ec5218"/><circle cx="432.23" cy="383.45" r="2.5" fill="#000" fill-opacity="0.15"/><circle cx="431.43" cy="382.35" r="2.4" fill="#ec5218"/><circle cx="465.89" cy="372.24" r="2.5" fill="#000" fill-opacity="0.15"/><circle cx="465.09" cy="371.14" r="2.4" fill="#ec5218"/><circle cx="499.55" cy="401.73" r="2.5" fill="#000" fill-opacity="0.15"/><circle cx="498.75" cy="400.63" r="2.4" fill="#ec5218"/><circle cx="533.21" cy="442.77" r="2.5" fill="#000" fill-opacity="0.15"/><circle cx="532.41" cy="441.67" r="2.4" fill="#ec5218"/><circle cx="566.88" cy="414.49" r="2.5" fill="#000" fill-opacity="0.15"/><circle cx="566.08" cy="413.39" r="2.4" fill="#ec5218"/><circle cx="600.54" cy="392.59" r="2.5" fill="#000" fill-opacity="0.15"/><circle cx="599.74" cy="391.49" r="2.4" fill="#ec5218"/><circle cx="634.20" cy="400.35" r="2.5" fill="#000" fill-opacity="0.15"/><circle cx="633.40" cy="399.25" r="2.4" fill="#ec5218"/><circle cx="667.86" cy="437.25" r="2.5" fill="#000" fill-opacity="0.15"/><circle cx="667.06" cy="436.15" r="2.4" fill="#ec5218"/><circle cx="701.52" cy="463.63" r="2.5" fill="#000" fill-opacity="0.15"/><circle cx="700.73" cy="462.53" r="2.4" fill="#ec5218"/><circle cx="735.19" cy="465.18" r="2.5" fill="#000" fill-opacity="0.15"/><circle cx="734.39" cy="464.08" r="2.4" fill="#ec5218"/><circle cx="768.85" cy="466.74" r="2.5" fill="#000" fill-opacity="0.15"/><circle cx="768.05" cy="465.64" r="2.4" fill="#ec5218"/><circle cx="802.51" cy="466.74" r="2.5" fill="#000" fill-opacity="0.15"/><circle cx="801.71" cy="465.64" r="2.4" fill="#ec5218"/><circle cx="836.18" cy="466.74" r="2.5" fill="#000" fill-opacity="0.15"/><circle cx="835.38" cy="465.64" r="2.4" fill="#ec5218"/><circle cx="869.84" cy="466.74" r="2.5" fill="#000" fill-opacity="0.15"/><circle cx="869.04" cy="465.64" r="2.4" fill="#ec5218"/></g><rect x="832.5" y="376.4" width="64.39999999999998" height="72.60000000000002" fill="#fff" fill-opacity="0.85" stroke="#ccc" stroke-width="0.6"/><rect x="834" y="377.60" width="6" height="5.2" fill="#4bb2c5" stroke="#bbb" stroke-width="0.3"/><text x="841" y="382.50" font-size="6.2" fill="#111">日本〇〇〇薬局本部</text><rect x="834" y="384.72" width="6" height="5.2" fill="#eaa228" stroke="#bbb" stroke-width="0.3"/><text x="841" y="389.62" font-size="6.2" fill="#111">品川店</text><rect x="834" y="391.84" width="6" height="5.2" fill="#c5b47f" stroke="#bbb" stroke-width="0.3"/><text x="841" y="396.74" font-size="6.2" fill="#111">五反田店</text><rect x="834" y="398.96" width="6" height="5.2" fill="#579575" stroke="#bbb" stroke-width="0.3"/><text x="841" y="403.86" font-size="6.2" fill="#111">雲出長常店</text><rect x="834" y="406.08" width="6" height="5.2" fill="#839557" stroke="#bbb" stroke-width="0.3"/><text x="841" y="410.98" font-size="6.2" fill="#111">日本HS店</text><rect x="834" y="413.20" width="6" height="5.2" fill="#958c12" stroke="#bbb" stroke-width="0.3"/><text x="841" y="418.10" font-size="6.2" fill="#111">津駅前店</text><rect x="834" y="420.32" width="6" height="5.2" fill="#953579" stroke="#bbb" stroke-width="0.3"/><text x="841" y="425.22" font-size="6.2" fill="#111">大阪店</text><rect x="834" y="427.44" width="6" height="5.2" fill="#4b5de4" stroke="#bbb" stroke-width="0.3"/><text x="841" y="432.34" font-size="6.2" fill="#111">広島店</text><rect x="834" y="434.56" width="6" height="5.2" fill="#d8b83f" stroke="#bbb" stroke-width="0.3"/><text x="841" y="439.46" font-size="6.2" fill="#111">四国店</text><rect x="834" y="441.68" width="6" height="5.2" fill="#ff5800" stroke="#bbb" stroke-width="0.3"/><text x="841" y="446.58" font-size="6.2" fill="#111">山口店</text><text x="71.9" y="428.6" font-size="7.4" fill="#444" text-anchor="middle">人</text><text x="71.9" y="438.4" font-size="7.4" fill="#444" text-anchor="middle">数</text><text x="499" y="515.3" font-size="7.4" fill="#444" text-anchor="middle">時間</text></svg>
</div>
  <div id="status" class="a">
    <svg class="a" style="left:840.5px;top:2px" width="10" height="9" viewBox="0 0 10 9"><circle cx="3.6" cy="3.6" r="2.6" fill="#6a9ad8" stroke="#3060a0" stroke-width="0.6"/><path d="M5.5 5.5L7.8 7.8" stroke="#333" stroke-width="1.3"/></svg>
    <span class="a" style="left:849px;top:2.8px;font-size:5.6px;color:#333">110%</span>
    <svg class="a" style="left:868px;top:4px" width="6" height="4" viewBox="0 0 6 4"><path d="M0.8 0.8H5.2L3 3.4z" fill="#111"/></svg>
  </div>
</div>
</body></html>
